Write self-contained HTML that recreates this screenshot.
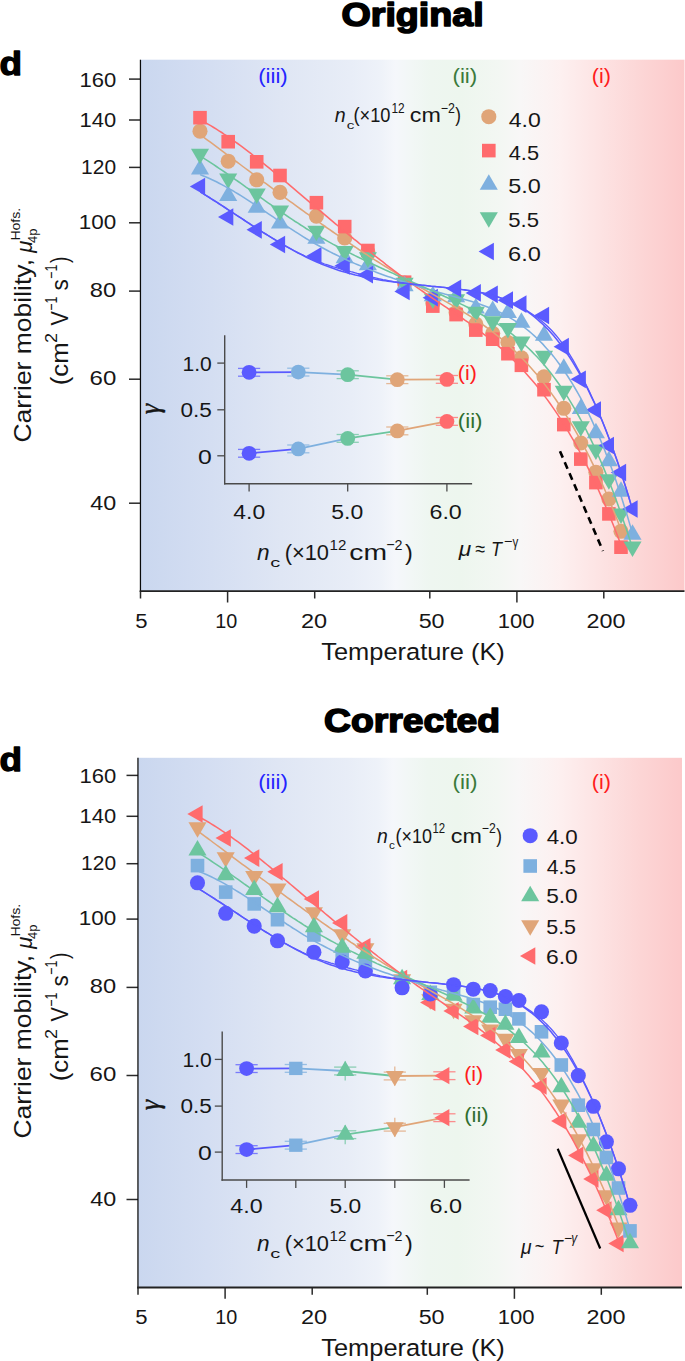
<!DOCTYPE html>
<html><head><meta charset="utf-8"><style>html,body{margin:0;padding:0;background:#fff;}svg{display:block;}</style></head>
<body><svg width="685" height="1361" viewBox="0 0 685 1361" font-family="Liberation Sans">
<rect width="685" height="1361" fill="#fff"/>
<defs><linearGradient id="g1" gradientUnits="userSpaceOnUse" x1="140.5" y1="0" x2="684.5" y2="0"><stop offset="0.0000" stop-color="#cad7ef"/><stop offset="0.1287" stop-color="#d4def2"/><stop offset="0.2574" stop-color="#dfe6f4"/><stop offset="0.3860" stop-color="#e8edf7"/><stop offset="0.4412" stop-color="#eef2f9"/><stop offset="0.4688" stop-color="#f5f7fb"/><stop offset="0.4963" stop-color="#f2f7f6"/><stop offset="0.5331" stop-color="#eef6f0"/><stop offset="0.5882" stop-color="#edf6ee"/><stop offset="0.6618" stop-color="#f3f7f3"/><stop offset="0.6985" stop-color="#f8f7f7"/><stop offset="0.7445" stop-color="#fbf3f3"/><stop offset="0.7721" stop-color="#fdf0f0"/><stop offset="0.8456" stop-color="#fde3e3"/><stop offset="0.9191" stop-color="#fcd6d6"/><stop offset="1.0000" stop-color="#fcc9ca"/></linearGradient><linearGradient id="g2" gradientUnits="userSpaceOnUse" x1="138" y1="0" x2="682" y2="0"><stop offset="0.0000" stop-color="#cad7ef"/><stop offset="0.1287" stop-color="#d4def2"/><stop offset="0.2574" stop-color="#dfe6f4"/><stop offset="0.3860" stop-color="#e8edf7"/><stop offset="0.4412" stop-color="#eef2f9"/><stop offset="0.4688" stop-color="#f5f7fb"/><stop offset="0.4963" stop-color="#f2f7f6"/><stop offset="0.5331" stop-color="#eef6f0"/><stop offset="0.5882" stop-color="#edf6ee"/><stop offset="0.6618" stop-color="#f3f7f3"/><stop offset="0.6985" stop-color="#f8f7f7"/><stop offset="0.7445" stop-color="#fbf3f3"/><stop offset="0.7721" stop-color="#fdf0f0"/><stop offset="0.8456" stop-color="#fde3e3"/><stop offset="0.9191" stop-color="#fcd6d6"/><stop offset="1.0000" stop-color="#fcc9ca"/></linearGradient></defs>
<rect x="140.5" y="59.7" width="544" height="531.5" fill="url(#g1)"/>
<text x="341.49" y="26.10" font-size="33" fill="#000" textLength="142.17" lengthAdjust="spacingAndGlyphs" font-weight="bold" stroke="#000" stroke-width="1.6" stroke-linejoin="round">Original</text>
<text x="-0.57" y="74.50" font-size="33.5" fill="#000" textLength="22.50" lengthAdjust="spacingAndGlyphs" font-weight="bold" stroke="#000" stroke-width="1.3" stroke-linejoin="round">d</text>
<line x1="129" y1="79.1" x2="140.5" y2="79.1" stroke="#2a2a2a" stroke-width="1.5"/>
<text x="79.45" y="87.20" font-size="20.7" fill="#161616" textLength="36.80" lengthAdjust="spacingAndGlyphs" >160</text>
<line x1="129" y1="120" x2="140.5" y2="120" stroke="#2a2a2a" stroke-width="1.5"/>
<text x="79.56" y="126.70" font-size="20.7" fill="#161616" textLength="36.59" lengthAdjust="spacingAndGlyphs" >140</text>
<line x1="129" y1="167.4" x2="140.5" y2="167.4" stroke="#2a2a2a" stroke-width="1.5"/>
<text x="81.13" y="174.10" font-size="20.7" fill="#161616" textLength="34.98" lengthAdjust="spacingAndGlyphs" >120</text>
<line x1="129" y1="222.8" x2="140.5" y2="222.8" stroke="#2a2a2a" stroke-width="1.5"/>
<text x="78.72" y="229.10" font-size="20.7" fill="#161616" textLength="37.45" lengthAdjust="spacingAndGlyphs" >100</text>
<line x1="129" y1="291.1" x2="140.5" y2="291.1" stroke="#2a2a2a" stroke-width="1.5"/>
<text x="89.83" y="297.30" font-size="20.7" fill="#161616" textLength="26.35" lengthAdjust="spacingAndGlyphs" >80</text>
<line x1="129" y1="379.2" x2="140.5" y2="379.2" stroke="#2a2a2a" stroke-width="1.5"/>
<text x="89.60" y="384.90" font-size="20.7" fill="#161616" textLength="26.70" lengthAdjust="spacingAndGlyphs" >60</text>
<line x1="129" y1="503.2" x2="140.5" y2="503.2" stroke="#2a2a2a" stroke-width="1.5"/>
<text x="90.33" y="509.70" font-size="20.7" fill="#161616" textLength="25.94" lengthAdjust="spacingAndGlyphs" >40</text>
<line x1="140.5" y1="591.2" x2="140.5" y2="598.5" stroke="#2a2a2a" stroke-width="1.5"/>
<text x="135.22" y="627.80" font-size="20.7" fill="#161616" textLength="12.29" lengthAdjust="spacingAndGlyphs" >5</text>
<line x1="227.6" y1="591.2" x2="227.6" y2="602.5" stroke="#2a2a2a" stroke-width="1.5"/>
<text x="215.21" y="627.80" font-size="20.7" fill="#161616" textLength="22.02" lengthAdjust="spacingAndGlyphs" >10</text>
<line x1="314.7" y1="591.2" x2="314.7" y2="598.5" stroke="#2a2a2a" stroke-width="1.5"/>
<text x="301.02" y="627.80" font-size="20.7" fill="#161616" textLength="26.15" lengthAdjust="spacingAndGlyphs" >20</text>
<line x1="429.8" y1="591.2" x2="429.8" y2="598.5" stroke="#2a2a2a" stroke-width="1.5"/>
<text x="418.67" y="627.80" font-size="20.7" fill="#161616" textLength="25.90" lengthAdjust="spacingAndGlyphs" >50</text>
<line x1="516.9" y1="591.2" x2="516.9" y2="602.5" stroke="#2a2a2a" stroke-width="1.5"/>
<text x="497.65" y="627.80" font-size="20.7" fill="#161616" textLength="36.80" lengthAdjust="spacingAndGlyphs" >100</text>
<line x1="603.8" y1="591.2" x2="603.8" y2="598.5" stroke="#2a2a2a" stroke-width="1.5"/>
<text x="586.43" y="627.80" font-size="20.7" fill="#161616" textLength="38.97" lengthAdjust="spacingAndGlyphs" >200</text>
<line x1="140.45" y1="59.7" x2="140.45" y2="591.9" stroke="#0a0a0a" stroke-width="1.25"/>
<line x1="139.7" y1="591.2" x2="684.5" y2="591.2" stroke="#222" stroke-width="1.8"/>
<text x="321.29" y="660.40" font-size="24.5" fill="#161616" textLength="183.56" lengthAdjust="spacingAndGlyphs" >Temperature (K)</text>
<g transform="rotate(-90)"><text x="-442.52" y="31.30" font-size="24.5" fill="#161616" textLength="183.53" lengthAdjust="spacingAndGlyphs" >Carrier mobility,</text></g><g transform="rotate(-90)"><text x="-252.86" y="31.60" font-size="23" fill="#161616" textLength="12.15" lengthAdjust="spacingAndGlyphs" font-style="italic" >μ</text></g><g transform="rotate(-90)"><text x="-242.96" y="37.00" font-size="12" fill="#161616" textLength="14.51" lengthAdjust="spacingAndGlyphs" >4p</text></g><g transform="rotate(-90)"><text x="-240.63" y="19.90" font-size="13.6" fill="#161616" textLength="32.85" lengthAdjust="spacingAndGlyphs" >Hofs.</text></g><g transform="rotate(-90)"><text x="-385.35" y="67.50" font-size="24.2" fill="#161616" textLength="43.14" lengthAdjust="spacingAndGlyphs" >(cm</text></g><g transform="rotate(-90)"><text x="-342.90" y="56.90" font-size="16.7" fill="#161616" textLength="10.02" lengthAdjust="spacingAndGlyphs" >2</text></g><g transform="rotate(-90)"><text x="-325.51" y="67.60" font-size="24.2" fill="#161616" textLength="14.36" lengthAdjust="spacingAndGlyphs" >V</text></g><g transform="rotate(-90)"><text x="-310.61" y="56.90" font-size="16.7" fill="#161616" textLength="13.86" lengthAdjust="spacingAndGlyphs" >−1</text></g><g transform="rotate(-90)"><text x="-290.58" y="67.60" font-size="24.2" fill="#161616" textLength="11.26" lengthAdjust="spacingAndGlyphs" >s</text></g><g transform="rotate(-90)"><text x="-278.72" y="56.90" font-size="16.7" fill="#161616" textLength="14.18" lengthAdjust="spacingAndGlyphs" >−1</text></g><g transform="rotate(-90)"><text x="-262.90" y="67.50" font-size="24.2" fill="#161616" textLength="6.41" lengthAdjust="spacingAndGlyphs" >)</text></g>
<text x="258.17" y="83.30" font-size="21.1" fill="#2424ff" textLength="29.52" lengthAdjust="spacingAndGlyphs" >(iii)</text>
<text x="452.46" y="83.30" font-size="21.1" fill="#3b7a3b" textLength="24.80" lengthAdjust="spacingAndGlyphs" >(ii)</text>
<text x="591.71" y="83.30" font-size="21.1" fill="#ff1c1c" textLength="19.16" lengthAdjust="spacingAndGlyphs" >(i)</text>
<circle cx="200" cy="131.2" r="7.55" fill="#e0a578"/>
<circle cx="228.2" cy="161.2" r="7.55" fill="#e0a578"/>
<circle cx="256.7" cy="179.8" r="7.55" fill="#e0a578"/>
<circle cx="280" cy="192.4" r="7.55" fill="#e0a578"/>
<circle cx="316.4" cy="216.1" r="7.55" fill="#e0a578"/>
<circle cx="344.7" cy="238" r="7.55" fill="#e0a578"/>
<circle cx="367.9" cy="252" r="7.55" fill="#e0a578"/>
<circle cx="404.6" cy="283" r="7.55" fill="#e0a578"/>
<circle cx="432.8" cy="303" r="7.55" fill="#e0a578"/>
<circle cx="456.1" cy="312.5" r="7.55" fill="#e0a578"/>
<circle cx="475.8" cy="324.1" r="7.55" fill="#e0a578"/>
<circle cx="492.7" cy="333.3" r="7.55" fill="#e0a578"/>
<circle cx="507.9" cy="342.5" r="7.55" fill="#e0a578"/>
<circle cx="521.4" cy="357.8" r="7.55" fill="#e0a578"/>
<circle cx="544" cy="376.8" r="7.55" fill="#e0a578"/>
<circle cx="563.8" cy="408.3" r="7.55" fill="#e0a578"/>
<circle cx="580.8" cy="443" r="7.55" fill="#e0a578"/>
<circle cx="595.9" cy="472.2" r="7.55" fill="#e0a578"/>
<circle cx="608.9" cy="499" r="7.55" fill="#e0a578"/>
<circle cx="621" cy="531.3" r="7.55" fill="#e0a578"/>
<rect x="193.2" y="110.9" width="13.6" height="13.6" fill="#ff6b6d"/>
<rect x="221.4" y="134.9" width="13.6" height="13.6" fill="#ff6b6d"/>
<rect x="249.9" y="155" width="13.6" height="13.6" fill="#ff6b6d"/>
<rect x="273.2" y="168.7" width="13.6" height="13.6" fill="#ff6b6d"/>
<rect x="309.6" y="195.9" width="13.6" height="13.6" fill="#ff6b6d"/>
<rect x="337.9" y="219.8" width="13.6" height="13.6" fill="#ff6b6d"/>
<rect x="361.1" y="243.7" width="13.6" height="13.6" fill="#ff6b6d"/>
<rect x="397.8" y="275.4" width="13.6" height="13.6" fill="#ff6b6d"/>
<rect x="426" y="299.3" width="13.6" height="13.6" fill="#ff6b6d"/>
<rect x="449.3" y="307.8" width="13.6" height="13.6" fill="#ff6b6d"/>
<rect x="469" y="323.3" width="13.6" height="13.6" fill="#ff6b6d"/>
<rect x="485.9" y="332.4" width="13.6" height="13.6" fill="#ff6b6d"/>
<rect x="501.1" y="346.9" width="13.6" height="13.6" fill="#ff6b6d"/>
<rect x="514.6" y="358.5" width="13.6" height="13.6" fill="#ff6b6d"/>
<rect x="537.2" y="382.9" width="13.6" height="13.6" fill="#ff6b6d"/>
<rect x="557" y="417.8" width="13.6" height="13.6" fill="#ff6b6d"/>
<rect x="574" y="452.3" width="13.6" height="13.6" fill="#ff6b6d"/>
<rect x="589.1" y="475.8" width="13.6" height="13.6" fill="#ff6b6d"/>
<rect x="602.1" y="507.1" width="13.6" height="13.6" fill="#ff6b6d"/>
<rect x="614.2" y="540.4" width="13.6" height="13.6" fill="#ff6b6d"/>
<polygon points="200,158.97 190.95,174.47 209.05,174.47" fill="#7eb0df"/>
<polygon points="228.2,185.47 219.15,200.97 237.25,200.97" fill="#7eb0df"/>
<polygon points="256.7,197.27 247.65,212.77 265.75,212.77" fill="#7eb0df"/>
<polygon points="280,213.07 270.95,228.57 289.05,228.57" fill="#7eb0df"/>
<polygon points="316.4,228.37 307.35,243.87 325.45,243.87" fill="#7eb0df"/>
<polygon points="344.7,247.67 335.65,263.17 353.75,263.17" fill="#7eb0df"/>
<polygon points="367.9,254.87 358.85,270.37 376.95,270.37" fill="#7eb0df"/>
<polygon points="404.6,275.67 395.55,291.17 413.65,291.17" fill="#7eb0df"/>
<polygon points="432.8,285.67 423.75,301.17 441.85,301.17" fill="#7eb0df"/>
<polygon points="456.1,286.67 447.05,302.17 465.15,302.17" fill="#7eb0df"/>
<polygon points="475.8,297.97 466.75,313.47 484.85,313.47" fill="#7eb0df"/>
<polygon points="492.7,300.57 483.65,316.07 501.75,316.07" fill="#7eb0df"/>
<polygon points="507.9,302.57 498.85,318.07 516.95,318.07" fill="#7eb0df"/>
<polygon points="521.4,312.27 512.35,327.77 530.45,327.77" fill="#7eb0df"/>
<polygon points="544,325.17 534.95,340.67 553.05,340.67" fill="#7eb0df"/>
<polygon points="563.8,358.37 554.75,373.87 572.85,373.87" fill="#7eb0df"/>
<polygon points="580.8,398.57 571.75,414.07 589.85,414.07" fill="#7eb0df"/>
<polygon points="595.9,422.87 586.85,438.37 604.95,438.37" fill="#7eb0df"/>
<polygon points="608.9,450.87 599.85,466.37 617.95,466.37" fill="#7eb0df"/>
<polygon points="621,481.37 611.95,496.87 630.05,496.87" fill="#7eb0df"/>
<polygon points="632.5,524.27 623.45,539.77 641.55,539.77" fill="#7eb0df"/>
<polygon points="200,164.33 190.95,148.83 209.05,148.83" fill="#6cc59e"/>
<polygon points="228.2,189.03 219.15,173.53 237.25,173.53" fill="#6cc59e"/>
<polygon points="256.7,203.93 247.65,188.43 265.75,188.43" fill="#6cc59e"/>
<polygon points="280,221.03 270.95,205.53 289.05,205.53" fill="#6cc59e"/>
<polygon points="316.4,241.23 307.35,225.73 325.45,225.73" fill="#6cc59e"/>
<polygon points="344.7,261.53 335.65,246.03 353.75,246.03" fill="#6cc59e"/>
<polygon points="367.9,267.73 358.85,252.23 376.95,252.23" fill="#6cc59e"/>
<polygon points="404.6,293.13 395.55,277.63 413.65,277.63" fill="#6cc59e"/>
<polygon points="432.8,308.93 423.75,293.43 441.85,293.43" fill="#6cc59e"/>
<polygon points="456.1,309.73 447.05,294.23 465.15,294.23" fill="#6cc59e"/>
<polygon points="475.8,322.33 466.75,306.83 484.85,306.83" fill="#6cc59e"/>
<polygon points="492.7,331.63 483.65,316.13 501.75,316.13" fill="#6cc59e"/>
<polygon points="507.9,338.53 498.85,323.03 516.95,323.03" fill="#6cc59e"/>
<polygon points="521.4,351.93 512.35,336.43 530.45,336.43" fill="#6cc59e"/>
<polygon points="544,366.33 534.95,350.83 553.05,350.83" fill="#6cc59e"/>
<polygon points="563.8,401.13 554.75,385.63 572.85,385.63" fill="#6cc59e"/>
<polygon points="580.8,436.63 571.75,421.13 589.85,421.13" fill="#6cc59e"/>
<polygon points="595.9,460.03 586.85,444.53 604.95,444.53" fill="#6cc59e"/>
<polygon points="608.9,489.63 599.85,474.13 617.95,474.13" fill="#6cc59e"/>
<polygon points="621,524.03 611.95,508.53 630.05,508.53" fill="#6cc59e"/>
<polygon points="632.5,557.03 623.45,541.53 641.55,541.53" fill="#6cc59e"/>
<polygon points="189.8,186.5 205.1,177.65 205.1,195.35" fill="#5a5aff"/>
<polygon points="218,217 233.3,208.15 233.3,225.85" fill="#5a5aff"/>
<polygon points="246.5,229.8 261.8,220.95 261.8,238.65" fill="#5a5aff"/>
<polygon points="269.8,244.5 285.1,235.65 285.1,253.35" fill="#5a5aff"/>
<polygon points="306.2,255.9 321.5,247.05 321.5,264.75" fill="#5a5aff"/>
<polygon points="334.5,265.8 349.8,256.95 349.8,274.65" fill="#5a5aff"/>
<polygon points="357.7,274.7 373,265.85 373,283.55" fill="#5a5aff"/>
<polygon points="394.4,291.5 409.7,282.65 409.7,300.35" fill="#5a5aff"/>
<polygon points="422.6,297.7 437.9,288.85 437.9,306.55" fill="#5a5aff"/>
<polygon points="445.9,288.4 461.2,279.55 461.2,297.25" fill="#5a5aff"/>
<polygon points="465.6,292.9 480.9,284.05 480.9,301.75" fill="#5a5aff"/>
<polygon points="482.5,294.3 497.8,285.45 497.8,303.15" fill="#5a5aff"/>
<polygon points="497.7,300.2 513,291.35 513,309.05" fill="#5a5aff"/>
<polygon points="511.2,304.2 526.5,295.35 526.5,313.05" fill="#5a5aff"/>
<polygon points="533.8,315.5 549.1,306.65 549.1,324.35" fill="#5a5aff"/>
<polygon points="553.6,346.7 568.9,337.85 568.9,355.55" fill="#5a5aff"/>
<polygon points="570.6,379.3 585.9,370.45 585.9,388.15" fill="#5a5aff"/>
<polygon points="585.7,410 601,401.15 601,418.85" fill="#5a5aff"/>
<polygon points="598.7,445.5 614,436.65 614,454.35" fill="#5a5aff"/>
<polygon points="610.8,472.5 626.1,463.65 626.1,481.35" fill="#5a5aff"/>
<polygon points="622.3,509 637.6,500.15 637.6,517.85" fill="#5a5aff"/>
<path d="M199.8,134.3 L202.5,136.3 L205.1,138.3 L207.8,140.3 L210.4,142.2 L213.1,144.2 L215.7,146.2 L218.4,148.2 L221.0,150.1 L223.7,152.1 L226.3,154.1 L229.0,156.1 L231.6,158.1 L234.3,160.1 L236.9,162.0 L239.6,164.0 L242.2,166.0 L244.9,168.0 L247.5,169.9 L250.2,171.9 L252.8,173.9 L255.5,175.9 L258.1,177.8 L260.8,179.8 L263.4,181.8 L266.1,183.7 L268.7,185.7 L271.4,187.7 L274.0,189.6 L276.7,191.6 L279.3,193.5 L282.0,195.5 L284.6,197.4 L287.3,199.4 L289.9,201.3 L292.6,203.2 L295.2,205.1 L297.9,207.1 L300.5,209.0 L303.2,210.9 L305.8,212.8 L308.5,214.7 L311.1,216.6 L313.8,218.5 L316.4,220.4 L319.1,222.2 L321.7,224.1 L324.4,226.0 L327.0,227.8 L329.7,229.7 L332.3,231.5 L335.0,233.3 L337.6,235.2 L340.3,237.0 L342.9,238.8 L345.6,240.6 L348.2,242.4 L350.9,244.2 L353.5,246.0 L356.2,247.7 L358.8,249.5 L361.5,251.2 L364.1,253.0 L366.8,254.7 L369.4,256.4 L372.1,258.1 L374.7,259.8 L377.4,261.5 L380.0,263.2 L382.7,264.9 L385.3,266.5 L388.0,268.2 L390.6,269.8 L393.3,271.4 L395.9,273.1 L398.6,274.7 L401.2,276.2 L403.9,277.8 L406.5,279.4 L409.2,280.9 L411.8,282.5 L414.5,284.0 L417.1,285.5 L419.8,287.0 L422.4,288.5 L425.1,290.0 L427.7,291.5 L430.4,292.9 L433.0,294.4 L435.7,295.9 L438.3,297.4 L441.0,298.8 L443.6,300.3 L446.3,301.8 L448.9,303.4 L451.6,304.9 L454.2,306.4 L456.9,308.0 L459.5,309.6 L462.2,311.2 L464.8,312.8 L467.5,314.5 L470.1,316.2 L472.8,317.9 L475.4,319.6 L478.1,321.4 L480.7,323.2 L483.4,325.1 L486.0,327.0 L488.7,329.0 L491.3,331.0 L494.0,333.0 L496.6,335.1 L499.3,337.2 L501.9,339.4 L504.6,341.7 L507.2,344.0 L509.9,346.4 L512.5,348.9 L515.2,351.4 L517.8,353.9 L520.5,356.6 L523.1,359.3 L525.8,362.1 L528.4,365.0 L531.1,367.9 L533.7,370.9 L536.4,374.1 L539.0,377.2 L541.7,380.5 L544.3,383.9 L547.0,387.4 L549.6,390.9 L552.3,394.6 L554.9,398.3 L557.6,402.2 L560.2,406.1 L562.9,410.2 L565.5,414.3 L568.2,418.6 L570.8,423.0 L573.5,427.5 L576.1,432.1 L578.8,436.8 L581.4,441.7 L584.1,446.6 L586.7,451.7 L589.4,456.9 L592.0,462.3 L594.7,467.7 L597.3,473.3 L600.0,479.1 L602.6,484.9 L605.3,491.0 L607.9,497.1 L610.6,503.4 L613.2,509.8 L615.9,516.4 L618.5,523.2 L621.2,530.0" fill="none" stroke="#e0a578" stroke-width="1.55"/>
<path d="M200.5,120.0 L203.1,121.4 L205.8,122.9 L208.4,124.4 L211.1,125.9 L213.7,127.5 L216.4,129.2 L219.0,130.8 L221.7,132.5 L224.3,134.3 L227.0,136.0 L229.6,137.9 L232.3,139.7 L234.9,141.6 L237.6,143.5 L240.2,145.4 L242.9,147.4 L245.5,149.4 L248.1,151.4 L250.8,153.4 L253.4,155.5 L256.1,157.6 L258.7,159.7 L261.4,161.8 L264.0,163.9 L266.7,166.1 L269.3,168.2 L272.0,170.4 L274.6,172.6 L277.3,174.8 L279.9,177.0 L282.6,179.2 L285.2,181.5 L287.9,183.7 L290.5,185.9 L293.2,188.2 L295.8,190.4 L298.4,192.6 L301.1,194.9 L303.7,197.1 L306.4,199.3 L309.0,201.6 L311.7,203.8 L314.3,206.0 L317.0,208.3 L319.6,210.5 L322.3,212.7 L324.9,214.9 L327.6,217.2 L330.2,219.4 L332.9,221.6 L335.5,223.8 L338.2,226.0 L340.8,228.2 L343.4,230.4 L346.1,232.5 L348.7,234.7 L351.4,236.9 L354.0,239.1 L356.7,241.2 L359.3,243.4 L362.0,245.5 L364.6,247.6 L367.3,249.7 L369.9,251.8 L372.6,253.9 L375.2,256.0 L377.9,258.1 L380.5,260.2 L383.2,262.2 L385.8,264.3 L388.4,266.3 L391.1,268.4 L393.7,270.4 L396.4,272.4 L399.0,274.3 L401.7,276.3 L404.3,278.3 L407.0,280.2 L409.6,282.1 L412.3,284.0 L414.9,285.9 L417.6,287.8 L420.2,289.7 L422.9,291.5 L425.5,293.4 L428.2,295.2 L430.8,297.0 L433.5,298.8 L436.1,300.6 L438.7,302.3 L441.4,304.1 L444.0,305.9 L446.7,307.7 L449.3,309.5 L452.0,311.2 L454.6,313.0 L457.3,314.9 L459.9,316.7 L462.6,318.5 L465.2,320.4 L467.9,322.2 L470.5,324.1 L473.2,326.1 L475.8,328.0 L478.5,330.0 L481.1,332.0 L483.7,334.1 L486.4,336.1 L489.0,338.3 L491.7,340.4 L494.3,342.6 L497.0,344.9 L499.6,347.2 L502.3,349.5 L504.9,352.0 L507.6,354.4 L510.2,356.9 L512.9,359.5 L515.5,362.2 L518.2,364.9 L520.8,367.6 L523.5,370.5 L526.1,373.4 L528.7,376.4 L531.4,379.5 L534.0,382.6 L536.7,385.8 L539.3,389.2 L542.0,392.6 L544.6,396.1 L547.3,399.6 L549.9,403.3 L552.6,407.1 L555.2,410.9 L557.9,414.9 L560.5,419.0 L563.2,423.1 L565.8,427.4 L568.5,431.8 L571.1,436.3 L573.8,440.9 L576.4,445.7 L579.0,450.5 L581.7,455.5 L584.3,460.6 L587.0,465.8 L589.6,471.2 L592.3,476.6 L594.9,482.3 L597.6,488.0 L600.2,493.9 L602.9,499.9 L605.5,506.1 L608.2,512.4 L610.8,518.9 L613.5,525.5 L616.1,532.3 L618.8,539.2 L621.4,546.3" fill="none" stroke="#ff6b6d" stroke-width="1.55"/>
<path d="M200.1,174.6 L202.8,175.7 L205.5,176.8 L208.3,178.0 L211.0,179.2 L213.7,180.5 L216.4,181.8 L219.1,183.2 L221.8,184.6 L224.6,186.1 L227.3,187.6 L230.0,189.2 L232.7,190.7 L235.4,192.4 L238.2,194.0 L240.9,195.7 L243.6,197.4 L246.3,199.1 L249.0,200.9 L251.7,202.7 L254.5,204.4 L257.2,206.2 L259.9,208.1 L262.6,209.9 L265.3,211.7 L268.1,213.6 L270.8,215.4 L273.5,217.2 L276.2,219.1 L278.9,220.9 L281.6,222.7 L284.4,224.6 L287.1,226.4 L289.8,228.2 L292.5,229.9 L295.2,231.7 L298.0,233.4 L300.7,235.1 L303.4,236.8 L306.1,238.5 L308.8,240.1 L311.5,241.7 L314.3,243.3 L317.0,244.8 L319.7,246.3 L322.4,247.8 L325.1,249.2 L327.9,250.7 L330.6,252.1 L333.3,253.5 L336.0,254.8 L338.7,256.1 L341.4,257.4 L344.2,258.7 L346.9,260.0 L349.6,261.2 L352.3,262.4 L355.0,263.6 L357.8,264.8 L360.5,265.9 L363.2,267.1 L365.9,268.2 L368.6,269.3 L371.3,270.3 L374.1,271.4 L376.8,272.4 L379.5,273.4 L382.2,274.4 L384.9,275.4 L387.7,276.4 L390.4,277.3 L393.1,278.3 L395.8,279.2 L398.5,280.1 L401.2,281.0 L404.0,281.9 L406.7,282.8 L409.4,283.6 L412.1,284.5 L414.8,285.3 L417.6,286.1 L420.3,287.0 L423.0,287.8 L425.7,288.6 L428.4,289.4 L431.2,290.1 L433.9,290.9 L436.6,291.7 L439.3,292.4 L442.0,293.2 L444.7,294.0 L447.5,294.7 L450.2,295.4 L452.9,296.2 L455.6,296.9 L458.3,297.7 L461.1,298.4 L463.8,299.2 L466.5,300.0 L469.2,300.8 L471.9,301.6 L474.6,302.4 L477.4,303.3 L480.1,304.2 L482.8,305.2 L485.5,306.2 L488.2,307.2 L491.0,308.3 L493.7,309.5 L496.4,310.7 L499.1,312.0 L501.8,313.3 L504.5,314.7 L507.3,316.2 L510.0,317.8 L512.7,319.4 L515.4,321.1 L518.1,323.0 L520.9,324.9 L523.6,326.9 L526.3,329.0 L529.0,331.2 L531.7,333.5 L534.4,335.9 L537.2,338.5 L539.9,341.2 L542.6,343.9 L545.3,346.9 L548.0,349.9 L550.8,353.1 L553.5,356.4 L556.2,359.9 L558.9,363.5 L561.6,367.3 L564.3,371.2 L567.1,375.3 L569.8,379.5 L572.5,383.9 L575.2,388.5 L577.9,393.2 L580.7,398.1 L583.4,403.3 L586.1,408.5 L588.8,414.0 L591.5,419.7 L594.2,425.6 L597.0,431.7 L599.7,438.0 L602.4,444.6 L605.1,451.3 L607.8,458.4 L610.6,465.6 L613.3,473.1 L616.0,480.8 L618.7,488.9 L621.4,497.1 L624.1,505.7 L626.9,514.5 L629.6,523.6 L632.3,533.0" fill="none" stroke="#7eb0df" stroke-width="1.55"/>
<path d="M200.1,156.0 L202.8,157.6 L205.5,159.4 L208.3,161.1 L211.0,162.9 L213.7,164.7 L216.4,166.5 L219.1,168.3 L221.8,170.1 L224.6,172.0 L227.3,173.9 L230.0,175.8 L232.7,177.7 L235.4,179.6 L238.2,181.5 L240.9,183.4 L243.6,185.3 L246.3,187.3 L249.0,189.2 L251.7,191.1 L254.5,193.1 L257.2,195.0 L259.9,197.0 L262.6,198.9 L265.3,200.8 L268.1,202.8 L270.8,204.7 L273.5,206.6 L276.2,208.5 L278.9,210.4 L281.6,212.3 L284.4,214.1 L287.1,216.0 L289.8,217.8 L292.5,219.7 L295.2,221.5 L298.0,223.2 L300.7,225.0 L303.4,226.7 L306.1,228.5 L308.8,230.2 L311.5,231.8 L314.3,233.5 L317.0,235.1 L319.7,236.7 L322.4,238.3 L325.1,239.8 L327.9,241.4 L330.6,242.9 L333.3,244.4 L336.0,245.8 L338.7,247.3 L341.4,248.7 L344.2,250.1 L346.9,251.5 L349.6,252.9 L352.3,254.3 L355.0,255.6 L357.8,257.0 L360.5,258.3 L363.2,259.6 L365.9,260.9 L368.6,262.2 L371.3,263.5 L374.1,264.8 L376.8,266.0 L379.5,267.3 L382.2,268.5 L384.9,269.8 L387.7,271.0 L390.4,272.2 L393.1,273.4 L395.8,274.7 L398.5,275.9 L401.2,277.1 L404.0,278.3 L406.7,279.5 L409.4,280.7 L412.1,281.9 L414.8,283.1 L417.6,284.3 L420.3,285.5 L423.0,286.7 L425.7,287.9 L428.4,289.1 L431.2,290.3 L433.9,291.5 L436.6,292.8 L439.3,294.0 L442.0,295.2 L444.7,296.5 L447.5,297.7 L450.2,299.0 L452.9,300.2 L455.6,301.5 L458.3,302.8 L461.1,304.1 L463.8,305.4 L466.5,306.7 L469.2,308.1 L471.9,309.4 L474.6,310.8 L477.4,312.2 L480.1,313.7 L482.8,315.2 L485.5,316.7 L488.2,318.2 L491.0,319.8 L493.7,321.5 L496.4,323.2 L499.1,324.9 L501.8,326.7 L504.5,328.6 L507.3,330.5 L510.0,332.5 L512.7,334.6 L515.4,336.8 L518.1,339.0 L520.9,341.3 L523.6,343.7 L526.3,346.2 L529.0,348.7 L531.7,351.4 L534.4,354.2 L537.2,357.0 L539.9,360.0 L542.6,363.1 L545.3,366.3 L548.0,369.6 L550.8,373.0 L553.5,376.6 L556.2,380.2 L558.9,384.0 L561.6,388.0 L564.3,392.0 L567.1,396.2 L569.8,400.6 L572.5,405.1 L575.2,409.7 L577.9,414.5 L580.7,419.5 L583.4,424.6 L586.1,429.9 L588.8,435.3 L591.5,440.9 L594.2,446.7 L597.0,452.7 L599.7,458.8 L602.4,465.1 L605.1,471.6 L607.8,478.3 L610.6,485.2 L613.3,492.3 L616.0,499.6 L618.7,507.1 L621.4,514.8 L624.1,522.7 L626.9,530.8 L629.6,539.1 L632.3,547.7" fill="none" stroke="#6cc59e" stroke-width="1.55"/>
<path d="M200.4,192.0 L203.1,193.6 L205.8,195.3 L208.6,197.0 L211.3,198.8 L214.0,200.5 L216.7,202.2 L219.4,204.0 L222.1,205.7 L224.9,207.5 L227.6,209.3 L230.3,211.1 L233.0,212.9 L235.7,214.6 L238.4,216.4 L241.2,218.2 L243.9,220.0 L246.6,221.8 L249.3,223.5 L252.0,225.3 L254.8,227.1 L257.5,228.8 L260.2,230.5 L262.9,232.3 L265.6,234.0 L268.3,235.7 L271.1,237.4 L273.8,239.0 L276.5,240.7 L279.2,242.3 L281.9,243.9 L284.6,245.5 L287.4,247.1 L290.1,248.6 L292.8,250.1 L295.5,251.6 L298.2,253.0 L301.0,254.4 L303.7,255.8 L306.4,257.2 L309.1,258.5 L311.8,259.8 L314.5,261.0 L317.3,262.2 L320.0,263.4 L322.7,264.5 L325.4,265.6 L328.1,266.6 L330.8,267.6 L333.6,268.6 L336.3,269.5 L339.0,270.4 L341.7,271.3 L344.4,272.1 L347.2,272.8 L349.9,273.6 L352.6,274.3 L355.3,275.0 L358.0,275.6 L360.7,276.3 L363.5,276.9 L366.2,277.4 L368.9,278.0 L371.6,278.5 L374.3,279.0 L377.0,279.5 L379.8,279.9 L382.5,280.4 L385.2,280.8 L387.9,281.2 L390.6,281.6 L393.4,282.0 L396.1,282.3 L398.8,282.7 L401.5,283.0 L404.2,283.3 L406.9,283.6 L409.7,283.9 L412.4,284.2 L415.1,284.5 L417.8,284.8 L420.5,285.1 L423.2,285.3 L426.0,285.6 L428.7,285.9 L431.4,286.2 L434.1,286.4 L436.8,286.7 L439.5,287.0 L442.3,287.3 L445.0,287.6 L447.7,287.9 L450.4,288.2 L453.1,288.5 L455.9,288.8 L458.6,289.1 L461.3,289.5 L464.0,289.8 L466.7,290.2 L469.4,290.6 L472.2,291.0 L474.9,291.5 L477.6,292.0 L480.3,292.5 L483.0,293.0 L485.7,293.7 L488.5,294.3 L491.2,295.0 L493.9,295.8 L496.6,296.6 L499.3,297.5 L502.1,298.5 L504.8,299.5 L507.5,300.6 L510.2,301.8 L512.9,303.1 L515.6,304.5 L518.4,306.0 L521.1,307.6 L523.8,309.3 L526.5,311.0 L529.2,313.0 L531.9,315.0 L534.7,317.1 L537.4,319.4 L540.1,321.8 L542.8,324.3 L545.5,327.0 L548.3,329.8 L551.0,332.7 L553.7,335.8 L556.4,339.1 L559.1,342.5 L561.8,346.1 L564.6,349.8 L567.3,353.7 L570.0,357.8 L572.7,362.1 L575.4,366.5 L578.1,371.2 L580.9,376.0 L583.6,381.0 L586.3,386.2 L589.0,391.7 L591.7,397.3 L594.5,403.2 L597.2,409.2 L599.9,415.5 L602.6,422.0 L605.3,428.8 L608.0,435.7 L610.8,443.0 L613.5,450.4 L616.2,458.1 L618.9,466.1 L621.6,474.3 L624.3,482.7 L627.1,491.5 L629.8,500.5 L632.5,509.7" fill="none" stroke="#5a5aff" stroke-width="1.55"/>
<path d="M200.4,192.0 L202.6,193.3 L204.7,194.6 L206.9,196.0 L209.1,197.4 L211.3,198.7 L213.4,200.1 L215.6,201.5 L217.8,202.9 L219.9,204.3 L222.1,205.7 L224.3,207.1 L226.5,208.6 L228.6,210.0 L230.8,211.4 L233.0,212.8 L235.1,214.3 L237.3,215.7 L239.5,217.1 L241.7,218.5 L243.8,219.9 L246.0,221.4 L248.2,222.8 L250.3,224.2 L252.5,225.6 L254.7,227.0 L256.9,228.4 L259.0,229.8 L261.2,231.2 L263.4,232.6 L265.5,233.9 L267.7,235.3 L269.9,236.6 L272.1,238.0 L274.2,239.3 L276.4,240.6 L278.6,241.9 L280.8,243.2 L282.9,244.4 L285.1,245.7 L287.3,246.9 L289.5,248.1 L291.7,249.3 L293.8,250.5 L296.0,251.6 L298.2,252.8 L300.4,253.9 L302.6,254.9 L304.8,256.0 L307.0,257.0 L309.2,258.0 L311.4,258.9 L313.6,259.8 L315.8,260.7 L318.0,261.6 L320.2,262.4 L322.4,263.2 L324.6,264.0 L326.8,264.7 L329.0,265.4 L331.2,266.1 L333.4,266.8 L335.6,267.4 L337.8,268.1 L339.9,268.7 L342.1,269.3 L344.3,269.9 L346.5,270.5 L348.6,271.1 L350.8,271.7 L352.9,272.2 L355.1,272.8 L357.2,273.4 L359.4,273.9 L361.5,274.5 L363.6,275.0 L365.8,275.6 L367.9,276.1 L370.1,276.7 L372.2,277.2 L374.3,277.7 L376.5,278.2 L378.6,278.7 L380.8,279.1 L382.9,279.6 L385.1,280.0 L387.2,280.4 L389.4,280.8 L391.5,281.2 L393.7,281.6 L395.9,281.9 L398.0,282.2 L400.2,282.6 L402.4,282.9 L404.5,283.2 L406.7,283.4 L408.9,283.7 L411.0,284.0 L413.2,284.2 L415.4,284.5 L417.5,284.7 L419.7,284.9 L421.9,285.2 L424.1,285.4 L426.2,285.6 L428.4,285.8 L430.6,286.1 L432.7,286.3 L434.9,286.5 L437.1,286.7 L439.2,286.9 L441.4,287.2 L443.6,287.4 L445.8,287.6 L447.9,287.9 L450.1,288.1 L452.3,288.4 L454.4,288.6 L456.6,288.9 L458.8,289.2 L461.0,289.4 L463.1,289.7 L465.3,290.0 L467.5,290.3 L469.6,290.6 L471.8,291.0 L474.0,291.3 L476.2,291.7 L478.3,292.1 L480.5,292.5 L482.7,293.0 L484.8,293.4 L487.0,294.0 L489.2,294.5 L491.4,295.1 L493.5,295.7 L495.7,296.3 L497.9,297.0 L500.1,297.7 L502.2,298.5 L504.4,299.3 L506.6,300.2 L508.8,301.1 L510.9,302.1 L513.1,303.1 L515.3,304.2 L517.5,305.3 L519.7,306.5 L521.9,307.7 L524.2,309.0 L526.4,310.3 L528.7,311.7 L530.9,313.2 L533.2,314.7 L535.5,316.4 L537.8,318.1 L540.1,319.8 L542.4,321.7 L544.7,323.7 L546.9,325.8 L549.2,328.0 L551.5,330.3 L553.7,332.7 L555.9,335.2 L558.1,337.9 L560.3,340.6 L562.4,343.5 L564.5,346.5 L566.6,349.7 L568.7,352.9 L570.8,356.3 L572.8,359.7 L574.9,363.3 L576.9,367.0 L579.0,370.8 L581.0,374.8 L583.1,378.8 L585.2,383.0 L587.3,387.2 L589.4,391.6 L591.5,396.2 L593.6,400.8 L595.7,405.6 L597.9,410.5 L600.0,415.6 L602.2,420.8 L604.3,426.1 L606.5,431.6 L608.6,437.2 L610.8,443.0 L613.0,449.0 L615.1,455.1 L617.3,461.3 L619.5,467.7 L621.6,474.3 L623.8,481.1 L626.0,488.0 L628.2,495.1 L630.3,502.3 L632.5,509.7" fill="none" stroke="#5a5aff" stroke-width="1.3"/>
<text x="334.81" y="122.40" font-size="20.3" fill="#161616" textLength="10.90" lengthAdjust="spacingAndGlyphs" font-style="italic" >n</text><text x="346.79" y="129.40" font-size="11.8" fill="#161616" textLength="7.59" lengthAdjust="spacingAndGlyphs" >c</text><text x="353.41" y="122.40" font-size="20.3" fill="#161616" textLength="37.02" lengthAdjust="spacingAndGlyphs" >(×10</text><text x="391.41" y="112.60" font-size="14" fill="#161616" textLength="13.21" lengthAdjust="spacingAndGlyphs" >12</text><text x="409.77" y="122.40" font-size="20.3" fill="#161616" textLength="31.00" lengthAdjust="spacingAndGlyphs" >cm</text><text x="440.78" y="112.60" font-size="14" fill="#161616" textLength="14.14" lengthAdjust="spacingAndGlyphs" >−2</text><text x="455.22" y="122.40" font-size="20.3" fill="#161616" textLength="5.66" lengthAdjust="spacingAndGlyphs" >)</text>
<circle cx="488.8" cy="116.7" r="7.55" fill="#e0a578"/>
<text x="508.74" y="126.80" font-size="20.8" fill="#161616" textLength="32.07" lengthAdjust="spacingAndGlyphs" >4.0</text>
<rect x="482" y="143.8" width="13.6" height="13.6" fill="#ff6b6d"/>
<text x="508.76" y="160.00" font-size="20.8" fill="#161616" textLength="30.31" lengthAdjust="spacingAndGlyphs" >4.5</text>
<polygon points="488.8,174.17 479.75,189.67 497.85,189.67" fill="#7eb0df"/>
<text x="508.26" y="193.20" font-size="20.8" fill="#161616" textLength="32.56" lengthAdjust="spacingAndGlyphs" >5.0</text>
<polygon points="488.8,227.73 479.75,212.23 497.85,212.23" fill="#6cc59e"/>
<text x="508.31" y="227.00" font-size="20.8" fill="#161616" textLength="30.77" lengthAdjust="spacingAndGlyphs" >5.5</text>
<polygon points="478.6,251.5 493.9,242.65 493.9,260.35" fill="#5a5aff"/>
<text x="508.02" y="260.50" font-size="20.8" fill="#161616" textLength="32.81" lengthAdjust="spacingAndGlyphs" >6.0</text>
<line x1="560" y1="451.2" x2="603" y2="551.1" stroke="#000" stroke-width="2.6" stroke-dasharray="7,5"/><text x="458.85" y="555.60" font-size="21" fill="#161616" textLength="12.45" lengthAdjust="spacingAndGlyphs" font-style="italic" >μ</text><text x="475.26" y="555.60" font-size="21" fill="#161616" textLength="9.76" lengthAdjust="spacingAndGlyphs" >≈</text><text x="490.99" y="555.80" font-size="21" fill="#161616" textLength="10.95" lengthAdjust="spacingAndGlyphs" font-style="italic" >T</text><text x="503.86" y="546.40" font-size="14" fill="#161616" textLength="8.67" lengthAdjust="spacingAndGlyphs" >−</text><text x="512.54" y="546.80" font-size="14" fill="#161616" textLength="5.82" lengthAdjust="spacingAndGlyphs" >γ</text>
<line x1="224.7" y1="335.3" x2="224.7" y2="484.4" stroke="#4a4a4a" stroke-width="1.4"/><line x1="224" y1="483.7" x2="472.1" y2="483.7" stroke="#4a4a4a" stroke-width="1.4"/><line x1="217.3" y1="363.1" x2="224.7" y2="363.1" stroke="#4a4a4a" stroke-width="1.3"/><text x="182.42" y="370.50" font-size="19.6" fill="#161616" textLength="29.32" lengthAdjust="spacingAndGlyphs" >1.0</text><line x1="217.3" y1="409.8" x2="224.7" y2="409.8" stroke="#4a4a4a" stroke-width="1.3"/><text x="180.50" y="417.40" font-size="19.6" fill="#161616" textLength="31.41" lengthAdjust="spacingAndGlyphs" >0.5</text><line x1="217.3" y1="455.8" x2="224.7" y2="455.8" stroke="#4a4a4a" stroke-width="1.3"/><text x="198.11" y="464.00" font-size="19.6" fill="#161616" textLength="13.79" lengthAdjust="spacingAndGlyphs" >0</text><line x1="249.1" y1="483.7" x2="249.1" y2="491.6" stroke="#4a4a4a" stroke-width="1.3"/><line x1="347.7" y1="483.7" x2="347.7" y2="491.6" stroke="#4a4a4a" stroke-width="1.3"/><line x1="446.9" y1="483.7" x2="446.9" y2="491.6" stroke="#4a4a4a" stroke-width="1.3"/><text x="233.34" y="518.80" font-size="19.6" fill="#161616" textLength="31.86" lengthAdjust="spacingAndGlyphs" >4.0</text><text x="331.28" y="518.80" font-size="19.6" fill="#161616" textLength="31.93" lengthAdjust="spacingAndGlyphs" >5.0</text><text x="429.44" y="518.80" font-size="19.6" fill="#161616" textLength="32.38" lengthAdjust="spacingAndGlyphs" >6.0</text><g transform="translate(158.5,409.1) rotate(-90)"><text x="0" y="0" font-size="26.5" font-style="italic" font-family="Liberation Serif" stroke="#161616" stroke-width="0.35" text-anchor="middle" fill="#161616">γ</text></g><line x1="249.1" y1="372.3" x2="298.3" y2="372.1" stroke="#5a5aff" stroke-width="1.8"/><line x1="298.3" y1="372.1" x2="347.7" y2="374.7" stroke="#7eb0df" stroke-width="1.8"/><line x1="347.7" y1="374.7" x2="397.3" y2="379.7" stroke="#6cc59e" stroke-width="1.8"/><line x1="397.3" y1="379.7" x2="446.9" y2="379.4" stroke="#e0a578" stroke-width="1.8"/><line x1="238" y1="368.4" x2="260.2" y2="368.4" stroke="#5a5aff" stroke-width="1.3" opacity="0.75"/><line x1="238" y1="376.2" x2="260.2" y2="376.2" stroke="#5a5aff" stroke-width="1.3" opacity="0.75"/><line x1="249.1" y1="368.4" x2="249.1" y2="376.2" stroke="#5a5aff" stroke-width="1.3" opacity="0.75"/><circle cx="249.1" cy="372.3" r="7.4" fill="#5a5aff"/><line x1="287.2" y1="368.2" x2="309.4" y2="368.2" stroke="#7eb0df" stroke-width="1.3" opacity="0.75"/><line x1="287.2" y1="376" x2="309.4" y2="376" stroke="#7eb0df" stroke-width="1.3" opacity="0.75"/><line x1="298.3" y1="368.2" x2="298.3" y2="376" stroke="#7eb0df" stroke-width="1.3" opacity="0.75"/><circle cx="298.3" cy="372.1" r="7.4" fill="#7eb0df"/><line x1="336.6" y1="370.8" x2="358.8" y2="370.8" stroke="#6cc59e" stroke-width="1.3" opacity="0.75"/><line x1="336.6" y1="378.6" x2="358.8" y2="378.6" stroke="#6cc59e" stroke-width="1.3" opacity="0.75"/><line x1="347.7" y1="370.8" x2="347.7" y2="378.6" stroke="#6cc59e" stroke-width="1.3" opacity="0.75"/><circle cx="347.7" cy="374.7" r="7.4" fill="#6cc59e"/><line x1="386.2" y1="375.8" x2="408.4" y2="375.8" stroke="#e0a578" stroke-width="1.3" opacity="0.75"/><line x1="386.2" y1="383.6" x2="408.4" y2="383.6" stroke="#e0a578" stroke-width="1.3" opacity="0.75"/><line x1="397.3" y1="375.8" x2="397.3" y2="383.6" stroke="#e0a578" stroke-width="1.3" opacity="0.75"/><circle cx="397.3" cy="379.7" r="7.4" fill="#e0a578"/><line x1="435.8" y1="375.5" x2="458" y2="375.5" stroke="#ff6b6d" stroke-width="1.3" opacity="0.75"/><line x1="435.8" y1="383.3" x2="458" y2="383.3" stroke="#ff6b6d" stroke-width="1.3" opacity="0.75"/><line x1="446.9" y1="375.5" x2="446.9" y2="383.3" stroke="#ff6b6d" stroke-width="1.3" opacity="0.75"/><circle cx="446.9" cy="379.4" r="7.4" fill="#ff6b6d"/><line x1="249.1" y1="453.3" x2="298.3" y2="448.9" stroke="#5a5aff" stroke-width="1.8"/><line x1="298.3" y1="448.9" x2="347.7" y2="438.4" stroke="#7eb0df" stroke-width="1.8"/><line x1="347.7" y1="438.4" x2="397.3" y2="430.9" stroke="#6cc59e" stroke-width="1.8"/><line x1="397.3" y1="430.9" x2="446.9" y2="421.4" stroke="#e0a578" stroke-width="1.8"/><line x1="238" y1="449.4" x2="260.2" y2="449.4" stroke="#5a5aff" stroke-width="1.3" opacity="0.75"/><line x1="238" y1="457.2" x2="260.2" y2="457.2" stroke="#5a5aff" stroke-width="1.3" opacity="0.75"/><line x1="249.1" y1="449.4" x2="249.1" y2="457.2" stroke="#5a5aff" stroke-width="1.3" opacity="0.75"/><circle cx="249.1" cy="453.3" r="7.4" fill="#5a5aff"/><line x1="287.2" y1="445" x2="309.4" y2="445" stroke="#7eb0df" stroke-width="1.3" opacity="0.75"/><line x1="287.2" y1="452.8" x2="309.4" y2="452.8" stroke="#7eb0df" stroke-width="1.3" opacity="0.75"/><line x1="298.3" y1="445" x2="298.3" y2="452.8" stroke="#7eb0df" stroke-width="1.3" opacity="0.75"/><circle cx="298.3" cy="448.9" r="7.4" fill="#7eb0df"/><line x1="336.6" y1="434.5" x2="358.8" y2="434.5" stroke="#6cc59e" stroke-width="1.3" opacity="0.75"/><line x1="336.6" y1="442.3" x2="358.8" y2="442.3" stroke="#6cc59e" stroke-width="1.3" opacity="0.75"/><line x1="347.7" y1="434.5" x2="347.7" y2="442.3" stroke="#6cc59e" stroke-width="1.3" opacity="0.75"/><circle cx="347.7" cy="438.4" r="7.4" fill="#6cc59e"/><line x1="386.2" y1="427" x2="408.4" y2="427" stroke="#e0a578" stroke-width="1.3" opacity="0.75"/><line x1="386.2" y1="434.8" x2="408.4" y2="434.8" stroke="#e0a578" stroke-width="1.3" opacity="0.75"/><line x1="397.3" y1="427" x2="397.3" y2="434.8" stroke="#e0a578" stroke-width="1.3" opacity="0.75"/><circle cx="397.3" cy="430.9" r="7.4" fill="#e0a578"/><line x1="435.8" y1="417.5" x2="458" y2="417.5" stroke="#ff6b6d" stroke-width="1.3" opacity="0.75"/><line x1="435.8" y1="425.3" x2="458" y2="425.3" stroke="#ff6b6d" stroke-width="1.3" opacity="0.75"/><line x1="446.9" y1="417.5" x2="446.9" y2="425.3" stroke="#ff6b6d" stroke-width="1.3" opacity="0.75"/><circle cx="446.9" cy="421.4" r="7.4" fill="#ff6b6d"/><text x="457.81" y="380.00" font-size="20.9" fill="#ff1c1c" textLength="19.04" lengthAdjust="spacingAndGlyphs" >(i)</text><text x="457.76" y="428.10" font-size="20.9" fill="#2f6e2f" textLength="24.80" lengthAdjust="spacingAndGlyphs" >(ii)</text><text x="257.06" y="559.80" font-size="21.5" fill="#161616" textLength="12.58" lengthAdjust="spacingAndGlyphs" font-style="italic" >n</text><text x="270.30" y="566.50" font-size="13.5" fill="#161616" textLength="10.00" lengthAdjust="spacingAndGlyphs" >c</text><text x="284.69" y="560.20" font-size="21.5" fill="#161616" textLength="44.26" lengthAdjust="spacingAndGlyphs" >(×10</text><text x="329.57" y="550.20" font-size="15.5" fill="#161616" textLength="16.83" lengthAdjust="spacingAndGlyphs" >12</text><text x="349.37" y="560.20" font-size="21.5" fill="#161616" textLength="37.72" lengthAdjust="spacingAndGlyphs" >cm</text><text x="386.28" y="550.20" font-size="15.5" fill="#161616" textLength="16.33" lengthAdjust="spacingAndGlyphs" >−2</text><text x="404.98" y="560.20" font-size="21.5" fill="#161616" textLength="7.79" lengthAdjust="spacingAndGlyphs" >)</text>
<rect x="138" y="757.8" width="544" height="529.7" fill="url(#g2)"/>
<text x="324.11" y="731.60" font-size="33" fill="#000" textLength="175.96" lengthAdjust="spacingAndGlyphs" font-weight="bold" stroke="#000" stroke-width="1.6" stroke-linejoin="round">Corrected</text>
<text x="-0.57" y="770.80" font-size="33.5" fill="#000" textLength="22.50" lengthAdjust="spacingAndGlyphs" font-weight="bold" stroke="#000" stroke-width="1.3" stroke-linejoin="round">d</text>
<line x1="126.5" y1="775.4" x2="138" y2="775.4" stroke="#2a2a2a" stroke-width="1.5"/>
<text x="79.45" y="783.20" font-size="20.7" fill="#161616" textLength="36.80" lengthAdjust="spacingAndGlyphs" >160</text>
<line x1="126.5" y1="816.3" x2="138" y2="816.3" stroke="#2a2a2a" stroke-width="1.5"/>
<text x="79.56" y="822.70" font-size="20.7" fill="#161616" textLength="36.59" lengthAdjust="spacingAndGlyphs" >140</text>
<line x1="126.5" y1="863.7" x2="138" y2="863.7" stroke="#2a2a2a" stroke-width="1.5"/>
<text x="81.13" y="870.10" font-size="20.7" fill="#161616" textLength="34.98" lengthAdjust="spacingAndGlyphs" >120</text>
<line x1="126.5" y1="919.1" x2="138" y2="919.1" stroke="#2a2a2a" stroke-width="1.5"/>
<text x="78.72" y="925.10" font-size="20.7" fill="#161616" textLength="37.45" lengthAdjust="spacingAndGlyphs" >100</text>
<line x1="126.5" y1="987.4" x2="138" y2="987.4" stroke="#2a2a2a" stroke-width="1.5"/>
<text x="89.83" y="993.30" font-size="20.7" fill="#161616" textLength="26.35" lengthAdjust="spacingAndGlyphs" >80</text>
<line x1="126.5" y1="1075.5" x2="138" y2="1075.5" stroke="#2a2a2a" stroke-width="1.5"/>
<text x="89.60" y="1080.90" font-size="20.7" fill="#161616" textLength="26.70" lengthAdjust="spacingAndGlyphs" >60</text>
<line x1="126.5" y1="1199.5" x2="138" y2="1199.5" stroke="#2a2a2a" stroke-width="1.5"/>
<text x="90.33" y="1205.70" font-size="20.7" fill="#161616" textLength="25.94" lengthAdjust="spacingAndGlyphs" >40</text>
<line x1="138" y1="1287.5" x2="138" y2="1294.8" stroke="#2a2a2a" stroke-width="1.5"/>
<text x="135.22" y="1323.80" font-size="20.7" fill="#161616" textLength="12.29" lengthAdjust="spacingAndGlyphs" >5</text>
<line x1="225.1" y1="1287.5" x2="225.1" y2="1298.8" stroke="#2a2a2a" stroke-width="1.5"/>
<text x="215.21" y="1323.80" font-size="20.7" fill="#161616" textLength="22.02" lengthAdjust="spacingAndGlyphs" >10</text>
<line x1="312.2" y1="1287.5" x2="312.2" y2="1294.8" stroke="#2a2a2a" stroke-width="1.5"/>
<text x="301.02" y="1323.80" font-size="20.7" fill="#161616" textLength="26.15" lengthAdjust="spacingAndGlyphs" >20</text>
<line x1="427.3" y1="1287.5" x2="427.3" y2="1294.8" stroke="#2a2a2a" stroke-width="1.5"/>
<text x="418.67" y="1323.80" font-size="20.7" fill="#161616" textLength="25.90" lengthAdjust="spacingAndGlyphs" >50</text>
<line x1="514.4" y1="1287.5" x2="514.4" y2="1298.8" stroke="#2a2a2a" stroke-width="1.5"/>
<text x="497.65" y="1323.80" font-size="20.7" fill="#161616" textLength="36.80" lengthAdjust="spacingAndGlyphs" >100</text>
<line x1="601.3" y1="1287.5" x2="601.3" y2="1294.8" stroke="#2a2a2a" stroke-width="1.5"/>
<text x="586.43" y="1323.80" font-size="20.7" fill="#161616" textLength="38.97" lengthAdjust="spacingAndGlyphs" >200</text>
<line x1="137.95" y1="757.8" x2="137.95" y2="1288.2" stroke="#0a0a0a" stroke-width="1.25"/>
<line x1="137.2" y1="1287.5" x2="682" y2="1287.5" stroke="#222" stroke-width="1.8"/>
<text x="321.29" y="1356.40" font-size="24.5" fill="#161616" textLength="183.56" lengthAdjust="spacingAndGlyphs" >Temperature (K)</text>
<g transform="rotate(-90)"><text x="-1138.52" y="31.30" font-size="24.5" fill="#161616" textLength="183.53" lengthAdjust="spacingAndGlyphs" >Carrier mobility,</text></g><g transform="rotate(-90)"><text x="-948.86" y="31.60" font-size="23" fill="#161616" textLength="12.15" lengthAdjust="spacingAndGlyphs" font-style="italic" >μ</text></g><g transform="rotate(-90)"><text x="-938.96" y="37.00" font-size="12" fill="#161616" textLength="14.51" lengthAdjust="spacingAndGlyphs" >4p</text></g><g transform="rotate(-90)"><text x="-936.63" y="19.90" font-size="13.6" fill="#161616" textLength="32.85" lengthAdjust="spacingAndGlyphs" >Hofs.</text></g><g transform="rotate(-90)"><text x="-1081.35" y="67.50" font-size="24.2" fill="#161616" textLength="43.14" lengthAdjust="spacingAndGlyphs" >(cm</text></g><g transform="rotate(-90)"><text x="-1038.90" y="56.90" font-size="16.7" fill="#161616" textLength="10.02" lengthAdjust="spacingAndGlyphs" >2</text></g><g transform="rotate(-90)"><text x="-1021.51" y="67.60" font-size="24.2" fill="#161616" textLength="14.36" lengthAdjust="spacingAndGlyphs" >V</text></g><g transform="rotate(-90)"><text x="-1006.61" y="56.90" font-size="16.7" fill="#161616" textLength="13.86" lengthAdjust="spacingAndGlyphs" >−1</text></g><g transform="rotate(-90)"><text x="-986.58" y="67.60" font-size="24.2" fill="#161616" textLength="11.26" lengthAdjust="spacingAndGlyphs" >s</text></g><g transform="rotate(-90)"><text x="-974.72" y="56.90" font-size="16.7" fill="#161616" textLength="14.18" lengthAdjust="spacingAndGlyphs" >−1</text></g><g transform="rotate(-90)"><text x="-958.90" y="67.50" font-size="24.2" fill="#161616" textLength="6.41" lengthAdjust="spacingAndGlyphs" >)</text></g>
<text x="258.16" y="789.20" font-size="21.1" fill="#2424ff" textLength="29.74" lengthAdjust="spacingAndGlyphs" >(iii)</text>
<text x="452.45" y="789.20" font-size="21.1" fill="#3b7a3b" textLength="25.03" lengthAdjust="spacingAndGlyphs" >(ii)</text>
<text x="591.71" y="789.20" font-size="21.1" fill="#ff1c1c" textLength="19.16" lengthAdjust="spacingAndGlyphs" >(i)</text>
<polygon points="197.5,837.83 188.45,822.33 206.55,822.33" fill="#e0a578"/>
<polygon points="225.7,867.83 216.65,852.33 234.75,852.33" fill="#e0a578"/>
<polygon points="254.2,886.43 245.15,870.93 263.25,870.93" fill="#e0a578"/>
<polygon points="277.5,899.03 268.45,883.53 286.55,883.53" fill="#e0a578"/>
<polygon points="313.9,922.73 304.85,907.23 322.95,907.23" fill="#e0a578"/>
<polygon points="342.2,944.63 333.15,929.13 351.25,929.13" fill="#e0a578"/>
<polygon points="365.4,958.63 356.35,943.13 374.45,943.13" fill="#e0a578"/>
<polygon points="402.1,989.63 393.05,974.13 411.15,974.13" fill="#e0a578"/>
<polygon points="430.3,1009.63 421.25,994.13 439.35,994.13" fill="#e0a578"/>
<polygon points="453.6,1019.13 444.55,1003.63 462.65,1003.63" fill="#e0a578"/>
<polygon points="473.3,1030.73 464.25,1015.23 482.35,1015.23" fill="#e0a578"/>
<polygon points="490.2,1039.93 481.15,1024.43 499.25,1024.43" fill="#e0a578"/>
<polygon points="505.4,1049.13 496.35,1033.63 514.45,1033.63" fill="#e0a578"/>
<polygon points="518.9,1064.43 509.85,1048.93 527.95,1048.93" fill="#e0a578"/>
<polygon points="541.5,1083.43 532.45,1067.93 550.55,1067.93" fill="#e0a578"/>
<polygon points="561.3,1114.93 552.25,1099.43 570.35,1099.43" fill="#e0a578"/>
<polygon points="578.3,1149.63 569.25,1134.13 587.35,1134.13" fill="#e0a578"/>
<polygon points="593.4,1178.83 584.35,1163.33 602.45,1163.33" fill="#e0a578"/>
<polygon points="606.4,1205.63 597.35,1190.13 615.45,1190.13" fill="#e0a578"/>
<polygon points="618.5,1237.93 609.45,1222.43 627.55,1222.43" fill="#e0a578"/>
<polygon points="187.3,814 202.6,805.15 202.6,822.85" fill="#ff6b6d"/>
<polygon points="215.5,838 230.8,829.15 230.8,846.85" fill="#ff6b6d"/>
<polygon points="244,858.1 259.3,849.25 259.3,866.95" fill="#ff6b6d"/>
<polygon points="267.3,871.8 282.6,862.95 282.6,880.65" fill="#ff6b6d"/>
<polygon points="303.7,899 319,890.15 319,907.85" fill="#ff6b6d"/>
<polygon points="332,922.9 347.3,914.05 347.3,931.75" fill="#ff6b6d"/>
<polygon points="355.2,946.8 370.5,937.95 370.5,955.65" fill="#ff6b6d"/>
<polygon points="391.9,978.5 407.2,969.65 407.2,987.35" fill="#ff6b6d"/>
<polygon points="420.1,1002.4 435.4,993.55 435.4,1011.25" fill="#ff6b6d"/>
<polygon points="443.4,1010.9 458.7,1002.05 458.7,1019.75" fill="#ff6b6d"/>
<polygon points="463.1,1026.4 478.4,1017.55 478.4,1035.25" fill="#ff6b6d"/>
<polygon points="480,1035.5 495.3,1026.65 495.3,1044.35" fill="#ff6b6d"/>
<polygon points="495.2,1050 510.5,1041.15 510.5,1058.85" fill="#ff6b6d"/>
<polygon points="508.7,1061.6 524,1052.75 524,1070.45" fill="#ff6b6d"/>
<polygon points="531.3,1086 546.6,1077.15 546.6,1094.85" fill="#ff6b6d"/>
<polygon points="551.1,1120.9 566.4,1112.05 566.4,1129.75" fill="#ff6b6d"/>
<polygon points="568.1,1155.4 583.4,1146.55 583.4,1164.25" fill="#ff6b6d"/>
<polygon points="583.2,1178.9 598.5,1170.05 598.5,1187.75" fill="#ff6b6d"/>
<polygon points="596.2,1210.2 611.5,1201.35 611.5,1219.05" fill="#ff6b6d"/>
<polygon points="608.3,1243.5 623.6,1234.65 623.6,1252.35" fill="#ff6b6d"/>
<rect x="190.7" y="858.8" width="13.6" height="13.6" fill="#7eb0df"/>
<rect x="218.9" y="885.3" width="13.6" height="13.6" fill="#7eb0df"/>
<rect x="247.4" y="897.1" width="13.6" height="13.6" fill="#7eb0df"/>
<rect x="270.7" y="912.9" width="13.6" height="13.6" fill="#7eb0df"/>
<rect x="307.1" y="928.2" width="13.6" height="13.6" fill="#7eb0df"/>
<rect x="335.4" y="947.5" width="13.6" height="13.6" fill="#7eb0df"/>
<rect x="358.6" y="954.7" width="13.6" height="13.6" fill="#7eb0df"/>
<rect x="395.3" y="975.5" width="13.6" height="13.6" fill="#7eb0df"/>
<rect x="423.5" y="985.5" width="13.6" height="13.6" fill="#7eb0df"/>
<rect x="446.8" y="986.5" width="13.6" height="13.6" fill="#7eb0df"/>
<rect x="466.5" y="997.8" width="13.6" height="13.6" fill="#7eb0df"/>
<rect x="483.4" y="1000.4" width="13.6" height="13.6" fill="#7eb0df"/>
<rect x="498.6" y="1002.4" width="13.6" height="13.6" fill="#7eb0df"/>
<rect x="512.1" y="1012.1" width="13.6" height="13.6" fill="#7eb0df"/>
<rect x="534.7" y="1025" width="13.6" height="13.6" fill="#7eb0df"/>
<rect x="554.5" y="1058.2" width="13.6" height="13.6" fill="#7eb0df"/>
<rect x="571.5" y="1098.4" width="13.6" height="13.6" fill="#7eb0df"/>
<rect x="586.6" y="1122.7" width="13.6" height="13.6" fill="#7eb0df"/>
<rect x="599.6" y="1150.7" width="13.6" height="13.6" fill="#7eb0df"/>
<rect x="611.7" y="1181.2" width="13.6" height="13.6" fill="#7eb0df"/>
<rect x="623.2" y="1224.1" width="13.6" height="13.6" fill="#7eb0df"/>
<polygon points="197.5,839.97 188.45,855.47 206.55,855.47" fill="#6cc59e"/>
<polygon points="225.7,864.67 216.65,880.17 234.75,880.17" fill="#6cc59e"/>
<polygon points="254.2,879.57 245.15,895.07 263.25,895.07" fill="#6cc59e"/>
<polygon points="277.5,896.67 268.45,912.17 286.55,912.17" fill="#6cc59e"/>
<polygon points="313.9,916.87 304.85,932.37 322.95,932.37" fill="#6cc59e"/>
<polygon points="342.2,937.17 333.15,952.67 351.25,952.67" fill="#6cc59e"/>
<polygon points="365.4,943.37 356.35,958.87 374.45,958.87" fill="#6cc59e"/>
<polygon points="402.1,968.77 393.05,984.27 411.15,984.27" fill="#6cc59e"/>
<polygon points="430.3,984.57 421.25,1000.07 439.35,1000.07" fill="#6cc59e"/>
<polygon points="453.6,985.37 444.55,1000.87 462.65,1000.87" fill="#6cc59e"/>
<polygon points="473.3,997.97 464.25,1013.47 482.35,1013.47" fill="#6cc59e"/>
<polygon points="490.2,1007.27 481.15,1022.77 499.25,1022.77" fill="#6cc59e"/>
<polygon points="505.4,1014.17 496.35,1029.67 514.45,1029.67" fill="#6cc59e"/>
<polygon points="518.9,1027.57 509.85,1043.07 527.95,1043.07" fill="#6cc59e"/>
<polygon points="541.5,1041.97 532.45,1057.47 550.55,1057.47" fill="#6cc59e"/>
<polygon points="561.3,1076.77 552.25,1092.27 570.35,1092.27" fill="#6cc59e"/>
<polygon points="578.3,1112.27 569.25,1127.77 587.35,1127.77" fill="#6cc59e"/>
<polygon points="593.4,1135.67 584.35,1151.17 602.45,1151.17" fill="#6cc59e"/>
<polygon points="606.4,1165.27 597.35,1180.77 615.45,1180.77" fill="#6cc59e"/>
<polygon points="618.5,1199.67 609.45,1215.17 627.55,1215.17" fill="#6cc59e"/>
<polygon points="630,1232.67 620.95,1248.17 639.05,1248.17" fill="#6cc59e"/>
<circle cx="197.5" cy="882.8" r="7.55" fill="#5a5aff"/>
<circle cx="225.7" cy="913.3" r="7.55" fill="#5a5aff"/>
<circle cx="254.2" cy="926.1" r="7.55" fill="#5a5aff"/>
<circle cx="277.5" cy="940.8" r="7.55" fill="#5a5aff"/>
<circle cx="313.9" cy="952.2" r="7.55" fill="#5a5aff"/>
<circle cx="342.2" cy="962.1" r="7.55" fill="#5a5aff"/>
<circle cx="365.4" cy="971" r="7.55" fill="#5a5aff"/>
<circle cx="402.1" cy="987.8" r="7.55" fill="#5a5aff"/>
<circle cx="430.3" cy="994" r="7.55" fill="#5a5aff"/>
<circle cx="453.6" cy="984.7" r="7.55" fill="#5a5aff"/>
<circle cx="473.3" cy="989.2" r="7.55" fill="#5a5aff"/>
<circle cx="490.2" cy="990.6" r="7.55" fill="#5a5aff"/>
<circle cx="505.4" cy="996.5" r="7.55" fill="#5a5aff"/>
<circle cx="518.9" cy="1000.5" r="7.55" fill="#5a5aff"/>
<circle cx="541.5" cy="1011.8" r="7.55" fill="#5a5aff"/>
<circle cx="561.3" cy="1043" r="7.55" fill="#5a5aff"/>
<circle cx="578.3" cy="1075.6" r="7.55" fill="#5a5aff"/>
<circle cx="593.4" cy="1106.3" r="7.55" fill="#5a5aff"/>
<circle cx="606.4" cy="1141.8" r="7.55" fill="#5a5aff"/>
<circle cx="618.5" cy="1168.8" r="7.55" fill="#5a5aff"/>
<circle cx="630" cy="1205.3" r="7.55" fill="#5a5aff"/>
<path d="M197.3,830.6 L200.0,832.6 L202.6,834.6 L205.3,836.6 L207.9,838.5 L210.6,840.5 L213.2,842.5 L215.9,844.5 L218.5,846.4 L221.2,848.4 L223.8,850.4 L226.5,852.4 L229.1,854.4 L231.8,856.4 L234.4,858.3 L237.1,860.3 L239.7,862.3 L242.4,864.3 L245.0,866.2 L247.7,868.2 L250.3,870.2 L253.0,872.2 L255.6,874.1 L258.3,876.1 L260.9,878.1 L263.6,880.0 L266.2,882.0 L268.9,884.0 L271.5,885.9 L274.2,887.9 L276.8,889.8 L279.5,891.8 L282.1,893.7 L284.8,895.7 L287.4,897.6 L290.1,899.5 L292.7,901.4 L295.4,903.4 L298.0,905.3 L300.7,907.2 L303.3,909.1 L306.0,911.0 L308.6,912.9 L311.3,914.8 L313.9,916.7 L316.6,918.5 L319.2,920.4 L321.9,922.3 L324.5,924.1 L327.2,926.0 L329.8,927.8 L332.5,929.6 L335.1,931.5 L337.8,933.3 L340.4,935.1 L343.1,936.9 L345.7,938.7 L348.4,940.5 L351.0,942.3 L353.7,944.0 L356.3,945.8 L359.0,947.5 L361.6,949.3 L364.3,951.0 L366.9,952.7 L369.6,954.4 L372.2,956.1 L374.9,957.8 L377.5,959.5 L380.2,961.2 L382.8,962.8 L385.5,964.5 L388.1,966.1 L390.8,967.7 L393.4,969.4 L396.1,971.0 L398.7,972.5 L401.4,974.1 L404.0,975.7 L406.7,977.2 L409.3,978.8 L412.0,980.3 L414.6,981.8 L417.3,983.3 L419.9,984.8 L422.6,986.3 L425.2,987.8 L427.9,989.2 L430.5,990.7 L433.2,992.2 L435.8,993.7 L438.5,995.1 L441.1,996.6 L443.8,998.1 L446.4,999.7 L449.1,1001.2 L451.7,1002.7 L454.4,1004.3 L457.0,1005.9 L459.7,1007.5 L462.3,1009.1 L465.0,1010.8 L467.6,1012.5 L470.3,1014.2 L472.9,1015.9 L475.6,1017.7 L478.2,1019.5 L480.9,1021.4 L483.5,1023.3 L486.2,1025.3 L488.8,1027.3 L491.5,1029.3 L494.1,1031.4 L496.8,1033.5 L499.4,1035.7 L502.1,1038.0 L504.7,1040.3 L507.4,1042.7 L510.0,1045.2 L512.7,1047.7 L515.3,1050.2 L518.0,1052.9 L520.6,1055.6 L523.3,1058.4 L525.9,1061.3 L528.6,1064.2 L531.2,1067.2 L533.9,1070.4 L536.5,1073.5 L539.2,1076.8 L541.8,1080.2 L544.5,1083.7 L547.1,1087.2 L549.8,1090.9 L552.4,1094.6 L555.1,1098.5 L557.7,1102.4 L560.4,1106.5 L563.0,1110.6 L565.7,1114.9 L568.3,1119.3 L571.0,1123.8 L573.6,1128.4 L576.3,1133.1 L578.9,1138.0 L581.6,1142.9 L584.2,1148.0 L586.9,1153.2 L589.5,1158.6 L592.2,1164.0 L594.8,1169.6 L597.5,1175.4 L600.1,1181.2 L602.8,1187.3 L605.4,1193.4 L608.1,1199.7 L610.7,1206.1 L613.4,1212.7 L616.0,1219.5 L618.7,1226.3" fill="none" stroke="#e0a578" stroke-width="1.55"/>
<path d="M198.0,816.3 L200.6,817.7 L203.3,819.2 L205.9,820.7 L208.6,822.2 L211.2,823.8 L213.9,825.5 L216.5,827.1 L219.2,828.8 L221.8,830.6 L224.5,832.3 L227.1,834.2 L229.8,836.0 L232.4,837.9 L235.1,839.8 L237.7,841.7 L240.4,843.7 L243.0,845.7 L245.6,847.7 L248.3,849.7 L250.9,851.8 L253.6,853.9 L256.2,856.0 L258.9,858.1 L261.5,860.2 L264.2,862.4 L266.8,864.5 L269.5,866.7 L272.1,868.9 L274.8,871.1 L277.4,873.3 L280.1,875.5 L282.7,877.8 L285.4,880.0 L288.0,882.2 L290.7,884.5 L293.3,886.7 L295.9,888.9 L298.6,891.2 L301.2,893.4 L303.9,895.6 L306.5,897.9 L309.2,900.1 L311.8,902.3 L314.5,904.6 L317.1,906.8 L319.8,909.0 L322.4,911.2 L325.1,913.5 L327.7,915.7 L330.4,917.9 L333.0,920.1 L335.7,922.3 L338.3,924.5 L340.9,926.7 L343.6,928.8 L346.2,931.0 L348.9,933.2 L351.5,935.4 L354.2,937.5 L356.8,939.7 L359.5,941.8 L362.1,943.9 L364.8,946.0 L367.4,948.1 L370.1,950.2 L372.7,952.3 L375.4,954.4 L378.0,956.5 L380.7,958.5 L383.3,960.6 L385.9,962.6 L388.6,964.7 L391.2,966.7 L393.9,968.7 L396.5,970.6 L399.2,972.6 L401.8,974.6 L404.5,976.5 L407.1,978.4 L409.8,980.3 L412.4,982.2 L415.1,984.1 L417.7,986.0 L420.4,987.8 L423.0,989.7 L425.7,991.5 L428.3,993.3 L431.0,995.1 L433.6,996.9 L436.2,998.6 L438.9,1000.4 L441.5,1002.2 L444.2,1004.0 L446.8,1005.8 L449.5,1007.5 L452.1,1009.3 L454.8,1011.2 L457.4,1013.0 L460.1,1014.8 L462.7,1016.7 L465.4,1018.5 L468.0,1020.4 L470.7,1022.4 L473.3,1024.3 L476.0,1026.3 L478.6,1028.3 L481.2,1030.4 L483.9,1032.4 L486.5,1034.6 L489.2,1036.7 L491.8,1038.9 L494.5,1041.2 L497.1,1043.5 L499.8,1045.8 L502.4,1048.3 L505.1,1050.7 L507.7,1053.2 L510.4,1055.8 L513.0,1058.5 L515.7,1061.2 L518.3,1063.9 L521.0,1066.8 L523.6,1069.7 L526.2,1072.7 L528.9,1075.8 L531.5,1078.9 L534.2,1082.1 L536.8,1085.5 L539.5,1088.9 L542.1,1092.4 L544.8,1095.9 L547.4,1099.6 L550.1,1103.4 L552.7,1107.2 L555.4,1111.2 L558.0,1115.3 L560.7,1119.4 L563.3,1123.7 L566.0,1128.1 L568.6,1132.6 L571.3,1137.2 L573.9,1142.0 L576.5,1146.8 L579.2,1151.8 L581.8,1156.9 L584.5,1162.1 L587.1,1167.5 L589.8,1172.9 L592.4,1178.6 L595.1,1184.3 L597.7,1190.2 L600.4,1196.2 L603.0,1202.4 L605.7,1208.7 L608.3,1215.2 L611.0,1221.8 L613.6,1228.6 L616.3,1235.5 L618.9,1242.6" fill="none" stroke="#ff6b6d" stroke-width="1.55"/>
<path d="M197.6,870.9 L200.3,872.0 L203.0,873.1 L205.8,874.3 L208.5,875.5 L211.2,876.8 L213.9,878.1 L216.6,879.5 L219.3,880.9 L222.1,882.4 L224.8,883.9 L227.5,885.5 L230.2,887.0 L232.9,888.7 L235.7,890.3 L238.4,892.0 L241.1,893.7 L243.8,895.4 L246.5,897.2 L249.2,899.0 L252.0,900.7 L254.7,902.5 L257.4,904.4 L260.1,906.2 L262.8,908.0 L265.6,909.9 L268.3,911.7 L271.0,913.5 L273.7,915.4 L276.4,917.2 L279.1,919.0 L281.9,920.9 L284.6,922.7 L287.3,924.5 L290.0,926.2 L292.7,928.0 L295.5,929.7 L298.2,931.4 L300.9,933.1 L303.6,934.8 L306.3,936.4 L309.0,938.0 L311.8,939.6 L314.5,941.1 L317.2,942.6 L319.9,944.1 L322.6,945.5 L325.4,947.0 L328.1,948.4 L330.8,949.8 L333.5,951.1 L336.2,952.4 L338.9,953.7 L341.7,955.0 L344.4,956.3 L347.1,957.5 L349.8,958.7 L352.5,959.9 L355.3,961.1 L358.0,962.2 L360.7,963.4 L363.4,964.5 L366.1,965.6 L368.8,966.6 L371.6,967.7 L374.3,968.7 L377.0,969.7 L379.7,970.7 L382.4,971.7 L385.2,972.7 L387.9,973.6 L390.6,974.6 L393.3,975.5 L396.0,976.4 L398.7,977.3 L401.5,978.2 L404.2,979.1 L406.9,979.9 L409.6,980.8 L412.3,981.6 L415.1,982.4 L417.8,983.3 L420.5,984.1 L423.2,984.9 L425.9,985.7 L428.7,986.4 L431.4,987.2 L434.1,988.0 L436.8,988.7 L439.5,989.5 L442.2,990.3 L445.0,991.0 L447.7,991.7 L450.4,992.5 L453.1,993.2 L455.8,994.0 L458.6,994.7 L461.3,995.5 L464.0,996.3 L466.7,997.1 L469.4,997.9 L472.1,998.7 L474.9,999.6 L477.6,1000.5 L480.3,1001.5 L483.0,1002.5 L485.7,1003.5 L488.5,1004.6 L491.2,1005.8 L493.9,1007.0 L496.6,1008.3 L499.3,1009.6 L502.0,1011.0 L504.8,1012.5 L507.5,1014.1 L510.2,1015.7 L512.9,1017.4 L515.6,1019.3 L518.4,1021.2 L521.1,1023.2 L523.8,1025.3 L526.5,1027.5 L529.2,1029.8 L531.9,1032.2 L534.7,1034.8 L537.4,1037.5 L540.1,1040.2 L542.8,1043.2 L545.5,1046.2 L548.3,1049.4 L551.0,1052.7 L553.7,1056.2 L556.4,1059.8 L559.1,1063.6 L561.8,1067.5 L564.6,1071.6 L567.3,1075.8 L570.0,1080.2 L572.7,1084.8 L575.4,1089.5 L578.2,1094.4 L580.9,1099.6 L583.6,1104.8 L586.3,1110.3 L589.0,1116.0 L591.7,1121.9 L594.5,1128.0 L597.2,1134.3 L599.9,1140.9 L602.6,1147.6 L605.3,1154.7 L608.1,1161.9 L610.8,1169.4 L613.5,1177.1 L616.2,1185.2 L618.9,1193.4 L621.6,1202.0 L624.4,1210.8 L627.1,1219.9 L629.8,1229.3" fill="none" stroke="#7eb0df" stroke-width="1.55"/>
<path d="M197.6,852.3 L200.3,853.9 L203.0,855.7 L205.8,857.4 L208.5,859.2 L211.2,861.0 L213.9,862.8 L216.6,864.6 L219.3,866.4 L222.1,868.3 L224.8,870.2 L227.5,872.1 L230.2,874.0 L232.9,875.9 L235.7,877.8 L238.4,879.7 L241.1,881.6 L243.8,883.6 L246.5,885.5 L249.2,887.4 L252.0,889.4 L254.7,891.3 L257.4,893.3 L260.1,895.2 L262.8,897.1 L265.6,899.1 L268.3,901.0 L271.0,902.9 L273.7,904.8 L276.4,906.7 L279.1,908.6 L281.9,910.4 L284.6,912.3 L287.3,914.1 L290.0,916.0 L292.7,917.8 L295.5,919.5 L298.2,921.3 L300.9,923.0 L303.6,924.8 L306.3,926.5 L309.0,928.1 L311.8,929.8 L314.5,931.4 L317.2,933.0 L319.9,934.6 L322.6,936.1 L325.4,937.7 L328.1,939.2 L330.8,940.7 L333.5,942.1 L336.2,943.6 L338.9,945.0 L341.7,946.4 L344.4,947.8 L347.1,949.2 L349.8,950.6 L352.5,951.9 L355.3,953.3 L358.0,954.6 L360.7,955.9 L363.4,957.2 L366.1,958.5 L368.8,959.8 L371.6,961.1 L374.3,962.3 L377.0,963.6 L379.7,964.8 L382.4,966.1 L385.2,967.3 L387.9,968.5 L390.6,969.7 L393.3,971.0 L396.0,972.2 L398.7,973.4 L401.5,974.6 L404.2,975.8 L406.9,977.0 L409.6,978.2 L412.3,979.4 L415.1,980.6 L417.8,981.8 L420.5,983.0 L423.2,984.2 L425.9,985.4 L428.7,986.6 L431.4,987.8 L434.1,989.1 L436.8,990.3 L439.5,991.5 L442.2,992.8 L445.0,994.0 L447.7,995.3 L450.4,996.5 L453.1,997.8 L455.8,999.1 L458.6,1000.4 L461.3,1001.7 L464.0,1003.0 L466.7,1004.4 L469.4,1005.7 L472.1,1007.1 L474.9,1008.5 L477.6,1010.0 L480.3,1011.5 L483.0,1013.0 L485.7,1014.5 L488.5,1016.1 L491.2,1017.8 L493.9,1019.5 L496.6,1021.2 L499.3,1023.0 L502.0,1024.9 L504.8,1026.8 L507.5,1028.8 L510.2,1030.9 L512.9,1033.1 L515.6,1035.3 L518.4,1037.6 L521.1,1040.0 L523.8,1042.5 L526.5,1045.0 L529.2,1047.7 L531.9,1050.5 L534.7,1053.3 L537.4,1056.3 L540.1,1059.4 L542.8,1062.6 L545.5,1065.9 L548.3,1069.3 L551.0,1072.9 L553.7,1076.5 L556.4,1080.3 L559.1,1084.3 L561.8,1088.3 L564.6,1092.5 L567.3,1096.9 L570.0,1101.4 L572.7,1106.0 L575.4,1110.8 L578.2,1115.8 L580.9,1120.9 L583.6,1126.2 L586.3,1131.6 L589.0,1137.2 L591.7,1143.0 L594.5,1149.0 L597.2,1155.1 L599.9,1161.4 L602.6,1167.9 L605.3,1174.6 L608.1,1181.5 L610.8,1188.6 L613.5,1195.9 L616.2,1203.4 L618.9,1211.1 L621.6,1219.0 L624.4,1227.1 L627.1,1235.4 L629.8,1244.0" fill="none" stroke="#6cc59e" stroke-width="1.55"/>
<path d="M197.9,888.3 L200.6,889.9 L203.3,891.6 L206.1,893.3 L208.8,895.1 L211.5,896.8 L214.2,898.5 L216.9,900.3 L219.6,902.0 L222.4,903.8 L225.1,905.6 L227.8,907.4 L230.5,909.2 L233.2,910.9 L235.9,912.7 L238.7,914.5 L241.4,916.3 L244.1,918.1 L246.8,919.8 L249.5,921.6 L252.3,923.4 L255.0,925.1 L257.7,926.8 L260.4,928.6 L263.1,930.3 L265.8,932.0 L268.6,933.7 L271.3,935.3 L274.0,937.0 L276.7,938.6 L279.4,940.2 L282.1,941.8 L284.9,943.4 L287.6,944.9 L290.3,946.4 L293.0,947.9 L295.7,949.3 L298.5,950.7 L301.2,952.1 L303.9,953.5 L306.6,954.8 L309.3,956.1 L312.0,957.3 L314.8,958.5 L317.5,959.7 L320.2,960.8 L322.9,961.9 L325.6,962.9 L328.3,963.9 L331.1,964.9 L333.8,965.8 L336.5,966.7 L339.2,967.6 L341.9,968.4 L344.7,969.1 L347.4,969.9 L350.1,970.6 L352.8,971.3 L355.5,971.9 L358.2,972.6 L361.0,973.2 L363.7,973.7 L366.4,974.3 L369.1,974.8 L371.8,975.3 L374.5,975.8 L377.3,976.2 L380.0,976.7 L382.7,977.1 L385.4,977.5 L388.1,977.9 L390.9,978.3 L393.6,978.6 L396.3,979.0 L399.0,979.3 L401.7,979.6 L404.4,979.9 L407.2,980.2 L409.9,980.5 L412.6,980.8 L415.3,981.1 L418.0,981.4 L420.7,981.6 L423.5,981.9 L426.2,982.2 L428.9,982.5 L431.6,982.7 L434.3,983.0 L437.0,983.3 L439.8,983.6 L442.5,983.9 L445.2,984.2 L447.9,984.5 L450.6,984.8 L453.4,985.1 L456.1,985.4 L458.8,985.8 L461.5,986.1 L464.2,986.5 L466.9,986.9 L469.7,987.3 L472.4,987.8 L475.1,988.3 L477.8,988.8 L480.5,989.3 L483.2,990.0 L486.0,990.6 L488.7,991.3 L491.4,992.1 L494.1,992.9 L496.8,993.8 L499.6,994.8 L502.3,995.8 L505.0,996.9 L507.7,998.1 L510.4,999.4 L513.1,1000.8 L515.9,1002.3 L518.6,1003.9 L521.3,1005.6 L524.0,1007.3 L526.7,1009.3 L529.4,1011.3 L532.2,1013.4 L534.9,1015.7 L537.6,1018.1 L540.3,1020.6 L543.0,1023.3 L545.8,1026.1 L548.5,1029.0 L551.2,1032.1 L553.9,1035.4 L556.6,1038.8 L559.3,1042.4 L562.1,1046.1 L564.8,1050.0 L567.5,1054.1 L570.2,1058.4 L572.9,1062.8 L575.6,1067.5 L578.4,1072.3 L581.1,1077.3 L583.8,1082.5 L586.5,1088.0 L589.2,1093.6 L592.0,1099.5 L594.7,1105.5 L597.4,1111.8 L600.1,1118.3 L602.8,1125.1 L605.5,1132.0 L608.3,1139.3 L611.0,1146.7 L613.7,1154.4 L616.4,1162.4 L619.1,1170.6 L621.8,1179.0 L624.6,1187.8 L627.3,1196.8 L630.0,1206.0" fill="none" stroke="#5a5aff" stroke-width="1.55"/>
<path d="M197.9,888.3 L200.1,889.6 L202.2,890.9 L204.4,892.3 L206.6,893.7 L208.8,895.0 L210.9,896.4 L213.1,897.8 L215.3,899.2 L217.4,900.6 L219.6,902.0 L221.8,903.4 L224.0,904.9 L226.1,906.3 L228.3,907.7 L230.5,909.1 L232.6,910.6 L234.8,912.0 L237.0,913.4 L239.2,914.8 L241.3,916.2 L243.5,917.7 L245.7,919.1 L247.8,920.5 L250.0,921.9 L252.2,923.3 L254.4,924.7 L256.5,926.1 L258.7,927.5 L260.9,928.9 L263.0,930.2 L265.2,931.6 L267.4,932.9 L269.6,934.3 L271.7,935.6 L273.9,936.9 L276.1,938.2 L278.3,939.5 L280.4,940.7 L282.6,942.0 L284.8,943.2 L287.0,944.4 L289.2,945.6 L291.3,946.8 L293.5,947.9 L295.7,949.1 L297.9,950.2 L300.1,951.2 L302.3,952.3 L304.5,953.3 L306.7,954.3 L308.9,955.2 L311.1,956.1 L313.3,957.0 L315.5,957.9 L317.7,958.7 L319.9,959.5 L322.1,960.3 L324.3,961.0 L326.5,961.7 L328.7,962.4 L330.9,963.1 L333.1,963.7 L335.3,964.4 L337.4,965.0 L339.6,965.6 L341.8,966.2 L344.0,966.8 L346.1,967.4 L348.3,968.0 L350.4,968.5 L352.6,969.1 L354.7,969.7 L356.9,970.2 L359.0,970.8 L361.1,971.3 L363.3,971.9 L365.4,972.4 L367.6,973.0 L369.7,973.5 L371.8,974.0 L374.0,974.5 L376.1,975.0 L378.3,975.4 L380.4,975.9 L382.6,976.3 L384.7,976.7 L386.9,977.1 L389.0,977.5 L391.2,977.9 L393.4,978.2 L395.5,978.5 L397.7,978.9 L399.9,979.2 L402.0,979.5 L404.2,979.7 L406.4,980.0 L408.5,980.3 L410.7,980.5 L412.9,980.8 L415.0,981.0 L417.2,981.2 L419.4,981.5 L421.6,981.7 L423.7,981.9 L425.9,982.1 L428.1,982.4 L430.2,982.6 L432.4,982.8 L434.6,983.0 L436.7,983.2 L438.9,983.5 L441.1,983.7 L443.3,983.9 L445.4,984.2 L447.6,984.4 L449.8,984.7 L451.9,984.9 L454.1,985.2 L456.3,985.5 L458.5,985.7 L460.6,986.0 L462.8,986.3 L465.0,986.6 L467.1,986.9 L469.3,987.3 L471.5,987.6 L473.7,988.0 L475.8,988.4 L478.0,988.8 L480.2,989.3 L482.3,989.7 L484.5,990.3 L486.7,990.8 L488.9,991.4 L491.0,992.0 L493.2,992.6 L495.4,993.3 L497.6,994.0 L499.7,994.8 L501.9,995.6 L504.1,996.5 L506.3,997.4 L508.4,998.4 L510.6,999.4 L512.8,1000.5 L515.0,1001.6 L517.2,1002.8 L519.4,1004.0 L521.7,1005.3 L523.9,1006.6 L526.2,1008.0 L528.4,1009.5 L530.7,1011.0 L533.0,1012.7 L535.3,1014.4 L537.6,1016.1 L539.9,1018.0 L542.2,1020.0 L544.4,1022.1 L546.7,1024.3 L549.0,1026.6 L551.2,1029.0 L553.4,1031.5 L555.6,1034.2 L557.8,1036.9 L559.9,1039.8 L562.0,1042.8 L564.1,1046.0 L566.2,1049.2 L568.3,1052.6 L570.3,1056.0 L572.4,1059.6 L574.4,1063.3 L576.5,1067.1 L578.5,1071.1 L580.6,1075.1 L582.7,1079.3 L584.8,1083.5 L586.9,1087.9 L589.0,1092.5 L591.1,1097.1 L593.2,1101.9 L595.4,1106.8 L597.5,1111.9 L599.7,1117.1 L601.8,1122.4 L604.0,1127.9 L606.1,1133.5 L608.3,1139.3 L610.5,1145.3 L612.6,1151.4 L614.8,1157.6 L617.0,1164.0 L619.1,1170.6 L621.3,1177.4 L623.5,1184.3 L625.7,1191.4 L627.8,1198.6 L630.0,1206.0" fill="none" stroke="#5a5aff" stroke-width="1.3"/>
<text x="376.91" y="842.60" font-size="20.3" fill="#161616" textLength="10.79" lengthAdjust="spacingAndGlyphs" font-style="italic" >n</text><text x="388.93" y="848.50" font-size="11.8" fill="#161616" textLength="5.86" lengthAdjust="spacingAndGlyphs" >c</text><text x="395.52" y="842.60" font-size="20.3" fill="#161616" textLength="36.39" lengthAdjust="spacingAndGlyphs" >(×10</text><text x="432.55" y="833.00" font-size="14" fill="#161616" textLength="12.65" lengthAdjust="spacingAndGlyphs" >12</text><text x="450.77" y="842.60" font-size="20.3" fill="#161616" textLength="31.10" lengthAdjust="spacingAndGlyphs" >cm</text><text x="481.79" y="833.00" font-size="14" fill="#161616" textLength="13.92" lengthAdjust="spacingAndGlyphs" >−2</text><text x="496.22" y="842.60" font-size="20.3" fill="#161616" textLength="5.66" lengthAdjust="spacingAndGlyphs" >)</text>
<circle cx="530.2" cy="835.7" r="7.55" fill="#5a5aff"/>
<text x="546.65" y="843.60" font-size="19.8" fill="#161616" textLength="31.03" lengthAdjust="spacingAndGlyphs" >4.0</text>
<rect x="523.4" y="859.2" width="13.6" height="13.6" fill="#7eb0df"/>
<text x="546.68" y="873.70" font-size="19.8" fill="#161616" textLength="29.37" lengthAdjust="spacingAndGlyphs" >4.5</text>
<polygon points="530.2,885.77 521.15,901.27 539.25,901.27" fill="#6cc59e"/>
<text x="546.19" y="903.20" font-size="19.8" fill="#161616" textLength="31.50" lengthAdjust="spacingAndGlyphs" >5.0</text>
<polygon points="530.2,935.83 521.15,920.33 539.25,920.33" fill="#e0a578"/>
<text x="546.24" y="933.60" font-size="19.8" fill="#161616" textLength="29.82" lengthAdjust="spacingAndGlyphs" >5.5</text>
<polygon points="520,956 535.3,947.15 535.3,964.85" fill="#ff6b6d"/>
<text x="545.96" y="963.90" font-size="19.8" fill="#161616" textLength="31.74" lengthAdjust="spacingAndGlyphs" >6.0</text>
<line x1="557.7" y1="1148.8" x2="600.2" y2="1248.5" stroke="#000" stroke-width="2.2"/><text x="520.89" y="1253.60" font-size="21" fill="#161616" textLength="10.56" lengthAdjust="spacingAndGlyphs" font-style="italic" >μ</text><text x="534.85" y="1252.50" font-size="21" fill="#161616" textLength="9.67" lengthAdjust="spacingAndGlyphs" >~</text><text x="551.56" y="1253.50" font-size="21" fill="#161616" textLength="11.16" lengthAdjust="spacingAndGlyphs" font-style="italic" >T</text><text x="564.11" y="1242.60" font-size="14" fill="#161616" textLength="8.07" lengthAdjust="spacingAndGlyphs" >−</text><text x="571.15" y="1242.60" font-size="14" fill="#161616" textLength="5.92" lengthAdjust="spacingAndGlyphs" font-style="italic" >γ</text>
<line x1="222.2" y1="1031.6" x2="222.2" y2="1180.7" stroke="#4a4a4a" stroke-width="1.4"/><line x1="221.5" y1="1180" x2="469.6" y2="1180" stroke="#4a4a4a" stroke-width="1.4"/><line x1="214.8" y1="1059.4" x2="222.2" y2="1059.4" stroke="#4a4a4a" stroke-width="1.3"/><text x="182.42" y="1066.50" font-size="19.6" fill="#161616" textLength="29.32" lengthAdjust="spacingAndGlyphs" >1.0</text><line x1="214.8" y1="1106.1" x2="222.2" y2="1106.1" stroke="#4a4a4a" stroke-width="1.3"/><text x="180.50" y="1113.40" font-size="19.6" fill="#161616" textLength="31.41" lengthAdjust="spacingAndGlyphs" >0.5</text><line x1="214.8" y1="1152.1" x2="222.2" y2="1152.1" stroke="#4a4a4a" stroke-width="1.3"/><text x="198.11" y="1160.00" font-size="19.6" fill="#161616" textLength="13.79" lengthAdjust="spacingAndGlyphs" >0</text><line x1="246.6" y1="1180" x2="246.6" y2="1187.9" stroke="#4a4a4a" stroke-width="1.3"/><line x1="295.8" y1="1180" x2="295.8" y2="1187.9" stroke="#4a4a4a" stroke-width="1.3"/><line x1="345.2" y1="1180" x2="345.2" y2="1187.9" stroke="#4a4a4a" stroke-width="1.3"/><line x1="394.8" y1="1180" x2="394.8" y2="1187.9" stroke="#4a4a4a" stroke-width="1.3"/><line x1="444.4" y1="1180" x2="444.4" y2="1187.9" stroke="#4a4a4a" stroke-width="1.3"/><text x="230.23" y="1213.10" font-size="19.6" fill="#161616" textLength="32.38" lengthAdjust="spacingAndGlyphs" >4.0</text><text x="329.59" y="1213.10" font-size="19.6" fill="#161616" textLength="31.71" lengthAdjust="spacingAndGlyphs" >5.0</text><text x="429.43" y="1213.10" font-size="19.6" fill="#161616" textLength="32.60" lengthAdjust="spacingAndGlyphs" >6.0</text><g transform="translate(158.5,1105.1) rotate(-90)"><text x="0" y="0" font-size="26.5" font-style="italic" font-family="Liberation Serif" stroke="#161616" stroke-width="0.35" text-anchor="middle" fill="#161616">γ</text></g><line x1="246.6" y1="1068.6" x2="295.8" y2="1068.4" stroke="#5a5aff" stroke-width="1.8"/><line x1="295.8" y1="1068.4" x2="345.2" y2="1071" stroke="#7eb0df" stroke-width="1.8"/><line x1="345.2" y1="1071" x2="394.8" y2="1076" stroke="#6cc59e" stroke-width="1.8"/><line x1="394.8" y1="1076" x2="444.4" y2="1075.7" stroke="#e0a578" stroke-width="1.8"/><line x1="235.5" y1="1064.7" x2="257.7" y2="1064.7" stroke="#5a5aff" stroke-width="1.3" opacity="0.75"/><line x1="235.5" y1="1072.5" x2="257.7" y2="1072.5" stroke="#5a5aff" stroke-width="1.3" opacity="0.75"/><line x1="246.6" y1="1064.7" x2="246.6" y2="1072.5" stroke="#5a5aff" stroke-width="1.3" opacity="0.75"/><circle cx="246.6" cy="1068.6" r="7.4" fill="#5a5aff"/><line x1="284.7" y1="1064.5" x2="306.9" y2="1064.5" stroke="#7eb0df" stroke-width="1.3" opacity="0.75"/><line x1="284.7" y1="1072.3" x2="306.9" y2="1072.3" stroke="#7eb0df" stroke-width="1.3" opacity="0.75"/><line x1="295.8" y1="1064.5" x2="295.8" y2="1072.3" stroke="#7eb0df" stroke-width="1.3" opacity="0.75"/><rect x="289.14" y="1061.74" width="13.33" height="13.33" fill="#7eb0df"/><line x1="334.1" y1="1067.1" x2="356.3" y2="1067.1" stroke="#6cc59e" stroke-width="1.3" opacity="0.75"/><line x1="334.1" y1="1074.9" x2="356.3" y2="1074.9" stroke="#6cc59e" stroke-width="1.3" opacity="0.75"/><line x1="345.2" y1="1061.5" x2="345.2" y2="1080.5" stroke="#6cc59e" stroke-width="1.3" opacity="0.75"/><polygon points="345.2,1060.87 336.33,1076.06 354.07,1076.06" fill="#6cc59e"/><line x1="383.7" y1="1072.1" x2="405.9" y2="1072.1" stroke="#e0a578" stroke-width="1.3" opacity="0.75"/><line x1="383.7" y1="1079.9" x2="405.9" y2="1079.9" stroke="#e0a578" stroke-width="1.3" opacity="0.75"/><line x1="394.8" y1="1066.5" x2="394.8" y2="1085.5" stroke="#e0a578" stroke-width="1.3" opacity="0.75"/><polygon points="394.8,1086.13 385.93,1070.94 403.67,1070.94" fill="#e0a578"/><line x1="433.3" y1="1071.8" x2="455.5" y2="1071.8" stroke="#ff6b6d" stroke-width="1.3" opacity="0.75"/><line x1="433.3" y1="1079.6" x2="455.5" y2="1079.6" stroke="#ff6b6d" stroke-width="1.3" opacity="0.75"/><line x1="444.4" y1="1071.8" x2="444.4" y2="1079.6" stroke="#ff6b6d" stroke-width="1.3" opacity="0.75"/><polygon points="434.4,1075.7 449.4,1067.03 449.4,1084.37" fill="#ff6b6d"/><line x1="246.6" y1="1149.6" x2="295.8" y2="1145.2" stroke="#5a5aff" stroke-width="1.8"/><line x1="295.8" y1="1145.2" x2="345.2" y2="1134.7" stroke="#7eb0df" stroke-width="1.8"/><line x1="345.2" y1="1134.7" x2="394.8" y2="1127.2" stroke="#6cc59e" stroke-width="1.8"/><line x1="394.8" y1="1127.2" x2="444.4" y2="1117.7" stroke="#e0a578" stroke-width="1.8"/><line x1="235.5" y1="1145.7" x2="257.7" y2="1145.7" stroke="#5a5aff" stroke-width="1.3" opacity="0.75"/><line x1="235.5" y1="1153.5" x2="257.7" y2="1153.5" stroke="#5a5aff" stroke-width="1.3" opacity="0.75"/><line x1="246.6" y1="1145.7" x2="246.6" y2="1153.5" stroke="#5a5aff" stroke-width="1.3" opacity="0.75"/><circle cx="246.6" cy="1149.6" r="7.4" fill="#5a5aff"/><line x1="284.7" y1="1141.3" x2="306.9" y2="1141.3" stroke="#7eb0df" stroke-width="1.3" opacity="0.75"/><line x1="284.7" y1="1149.1" x2="306.9" y2="1149.1" stroke="#7eb0df" stroke-width="1.3" opacity="0.75"/><line x1="295.8" y1="1141.3" x2="295.8" y2="1149.1" stroke="#7eb0df" stroke-width="1.3" opacity="0.75"/><rect x="289.14" y="1138.54" width="13.33" height="13.33" fill="#7eb0df"/><line x1="334.1" y1="1130.8" x2="356.3" y2="1130.8" stroke="#6cc59e" stroke-width="1.3" opacity="0.75"/><line x1="334.1" y1="1138.6" x2="356.3" y2="1138.6" stroke="#6cc59e" stroke-width="1.3" opacity="0.75"/><line x1="345.2" y1="1125.2" x2="345.2" y2="1144.2" stroke="#6cc59e" stroke-width="1.3" opacity="0.75"/><polygon points="345.2,1124.57 336.33,1139.76 354.07,1139.76" fill="#6cc59e"/><line x1="383.7" y1="1123.3" x2="405.9" y2="1123.3" stroke="#e0a578" stroke-width="1.3" opacity="0.75"/><line x1="383.7" y1="1131.1" x2="405.9" y2="1131.1" stroke="#e0a578" stroke-width="1.3" opacity="0.75"/><line x1="394.8" y1="1117.7" x2="394.8" y2="1136.7" stroke="#e0a578" stroke-width="1.3" opacity="0.75"/><polygon points="394.8,1137.33 385.93,1122.14 403.67,1122.14" fill="#e0a578"/><line x1="433.3" y1="1113.8" x2="455.5" y2="1113.8" stroke="#ff6b6d" stroke-width="1.3" opacity="0.75"/><line x1="433.3" y1="1121.6" x2="455.5" y2="1121.6" stroke="#ff6b6d" stroke-width="1.3" opacity="0.75"/><line x1="444.4" y1="1113.8" x2="444.4" y2="1121.6" stroke="#ff6b6d" stroke-width="1.3" opacity="0.75"/><polygon points="434.4,1117.7 449.4,1109.03 449.4,1126.37" fill="#ff6b6d"/><text x="464.21" y="1080.70" font-size="20.9" fill="#ff1c1c" textLength="19.04" lengthAdjust="spacingAndGlyphs" >(i)</text><text x="464.18" y="1122.20" font-size="20.9" fill="#2f6e2f" textLength="24.46" lengthAdjust="spacingAndGlyphs" >(ii)</text><text x="257.06" y="1250.80" font-size="21.5" fill="#161616" textLength="12.58" lengthAdjust="spacingAndGlyphs" font-style="italic" >n</text><text x="270.30" y="1257.50" font-size="13.5" fill="#161616" textLength="10.00" lengthAdjust="spacingAndGlyphs" >c</text><text x="284.69" y="1251.20" font-size="21.5" fill="#161616" textLength="44.26" lengthAdjust="spacingAndGlyphs" >(×10</text><text x="329.57" y="1241.20" font-size="15.5" fill="#161616" textLength="16.83" lengthAdjust="spacingAndGlyphs" >12</text><text x="349.37" y="1251.20" font-size="21.5" fill="#161616" textLength="37.72" lengthAdjust="spacingAndGlyphs" >cm</text><text x="386.28" y="1241.20" font-size="15.5" fill="#161616" textLength="16.33" lengthAdjust="spacingAndGlyphs" >−2</text><text x="404.98" y="1251.20" font-size="21.5" fill="#161616" textLength="7.79" lengthAdjust="spacingAndGlyphs" >)</text>
</svg></body></html>
